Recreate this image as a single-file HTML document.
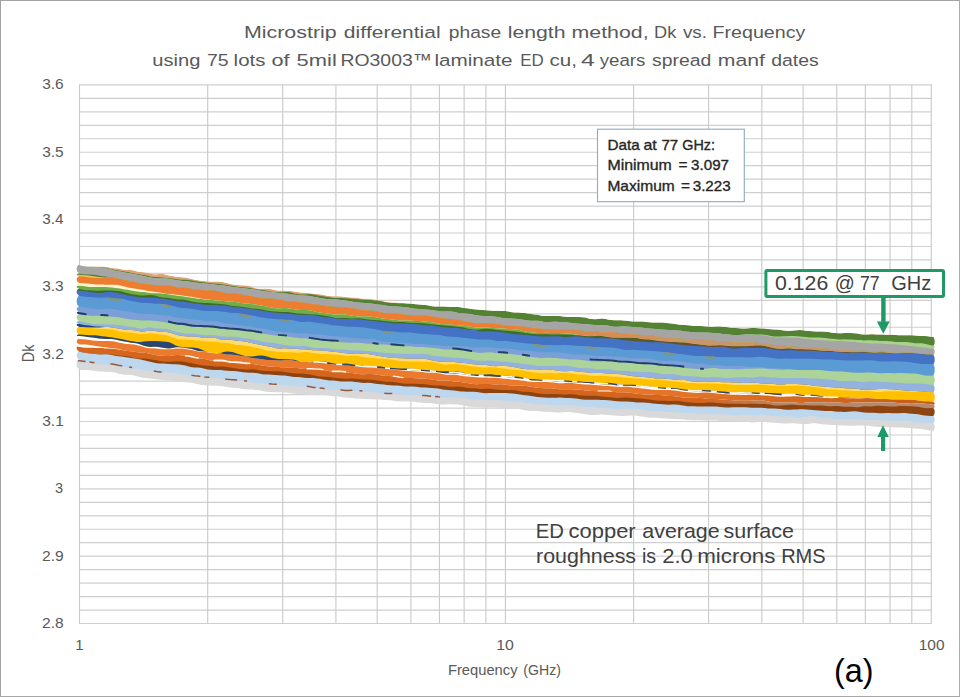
<!DOCTYPE html>
<html lang="en">
<head>
<meta charset="utf-8">
<title>Dk vs. Frequency</title>
<style>
html,body{margin:0;padding:0;background:#ffffff;}
body{width:960px;height:697px;overflow:hidden;font-family:"Liberation Sans",sans-serif;}
#chart{position:absolute;left:0;top:0;width:960px;height:697px;box-sizing:border-box;border:1px solid #a2a2a2;border-right-color:#adadad;border-bottom-color:#a8a8a8;background:#ffffff;}
svg{position:absolute;left:-1px;top:-1px;font-family:"Liberation Sans",sans-serif;font-kerning:none;}
</style>
</head>
<body>
<div id="chart">
<svg width="960" height="697" viewBox="0 0 960 697">
<path d="M78.9 84.90H931.9M78.9 98.37H931.9M78.9 111.83H931.9M78.9 125.30H931.9M78.9 138.76H931.9M78.9 152.23H931.9M78.9 165.69H931.9M78.9 179.16H931.9M78.9 192.62H931.9M78.9 206.09H931.9M78.9 219.55H931.9M78.9 233.02H931.9M78.9 246.48H931.9M78.9 259.95H931.9M78.9 273.41H931.9M78.9 286.88H931.9M78.9 300.34H931.9M78.9 313.81H931.9M78.9 327.27H931.9M78.9 340.74H931.9M78.9 354.20H931.9M78.9 367.66H931.9M78.9 381.13H931.9M78.9 394.60H931.9M78.9 408.06H931.9M78.9 421.52H931.9M78.9 434.99H931.9M78.9 448.46H931.9M78.9 461.92H931.9M78.9 475.38H931.9M78.9 488.85H931.9M78.9 502.32H931.9M78.9 515.78H931.9M78.9 529.25H931.9M78.9 542.71H931.9M78.9 556.17H931.9M78.9 569.64H931.9M78.9 583.11H931.9M78.9 596.57H931.9M78.9 610.03H931.9M78.9 623.50H931.9" fill="none" stroke="#cfcfcf" stroke-width="1.2"/>
<path d="M79.50 84.9V623.5M207.71 84.9V623.5M282.71 84.9V623.5M335.92 84.9V623.5M377.19 84.9V623.5M410.91 84.9V623.5M439.43 84.9V623.5M464.13 84.9V623.5M485.91 84.9V623.5M505.40 84.9V623.5M633.61 84.9V623.5M708.61 84.9V623.5M761.82 84.9V623.5M803.09 84.9V623.5M836.81 84.9V623.5M865.33 84.9V623.5M890.03 84.9V623.5M911.81 84.9V623.5M931.30 84.9V623.5" fill="none" stroke="#c9c9c9" stroke-width="1.1"/>
<defs><linearGradient id="gOr" gradientUnits="userSpaceOnUse" x1="500" y1="0" x2="690" y2="0"><stop offset="0" stop-color="#ed7d31"/><stop offset="1" stop-color="#c9966c"/></linearGradient><linearGradient id="gDg" gradientUnits="userSpaceOnUse" x1="540" y1="0" x2="700" y2="0"><stop offset="0" stop-color="#3f6b2a"/><stop offset="1" stop-color="#6b4f25"/></linearGradient><linearGradient id="gO2" gradientUnits="userSpaceOnUse" x1="600" y1="0" x2="900" y2="0"><stop offset="0" stop-color="#ec7a2e"/><stop offset="1" stop-color="#c9601a"/></linearGradient><linearGradient id="gO3" gradientUnits="userSpaceOnUse" x1="700" y1="0" x2="800" y2="0"><stop offset="0" stop-color="#d5651c"/><stop offset="1" stop-color="#b58a6c"/></linearGradient>
<mask id="bandmask" maskUnits="userSpaceOnUse" x="70" y="255" width="870" height="185"><path d="M79.8 265.2l3.2 0.7 3.2 0.5 3.2 0.1 3.2-0.1 3.2 0 3.2 0 3.2 0 3.2 0.3 3.2 0.6 3.2 0.6 3.2 0.4 3.2 0.3 3.2 0.6 3.2 0.5 3.2 0.2 3.2 0.2 3.2 0.5 3.2 0.8 3.2 0.5 3.2 0.4 3.2 0.5 3.2 0.8 3.2 0.6 3.2 0 3.2-0.2 3.2 0.1 3.2 0.7 3.2 0.7 3.2 0.6 3.2 0.6 3.2 0.4 3.2 0.2 3.2 0.3 3.2 0.6 3.2 0.7 3.2 0.8 3.2 0.6 3.2 0.4 3.2 0.4 3.2 0.3 3.2 0.1 3.2 0 3.2 0.1 3.2 0.2 3.2 0.5 3.2 0.8 3.2 0.9 3.2 0.6 3.2 0.4 3.2 0.3 3.2 0 3.2 0.2 3.2 0.6 3.2 1.1 3.2 1 3.2 0.5 3.2 0 3.2-0.2 3.2 0.2 3.2 0.6 3.2 0.8 3.2 0.4 3.2 0.1 3.2 0 3.2 0.2 3.2 0.3 3.2 0.5 3.2 0.4 3.2 0.4 3.2 0.2 3.2 0.3 3.2 0.4 3.2 0.4 3.2 0.3 3.2 0.3 3.2 0.5 3.2 0.6 3.2 0.5 3.2 0.3 3.2 0 3.2 0.1 3.2 0.2 3.2 0.5 3.2 0.3 3.2 0.2 3.2 0 3.2 0.4 3.2 0.5 3.2 0.3 3.2 0.1 3.2 0.3 3.2 0.4 3.2 0.5 3.2 0.5 3.2 0.7 3.2 0.7 3.2 0.4 3.2 0.1 3.2 0.2 3.2 0.2 3.2 0.2 3.2 0.2 3.2 0.2 3.2 0.4 3.2 0.4 3.2 0.3 3.2 0.2 3.2 0.3 3.2 0.6 3.2 0.6 3.2 0.3 3.2 0.1 3.2 0 3.2 0 3.2 0.2 3.2 0.2 3.2 0.1 3.2 0 3.2 0.2 3.2 0.6 3.2 0.4 3.2 0.4 3.2 0.5 3.2 0.3 3.2 0.2 3.2 0.2 3.2 0.3 3.2 0.3 3.2 0.2 3.2 0 3.2 0.1 3.2 0.1 3.2 0.2 3.2 0.5 3.2 0.6 3.2 0.3 3.2 0.1 3.2 0.1 3.2 0.4 3.2 0.5 3.2 0.5 3.2 0.3 3.2 0.4 3.2 0.6 3.2 0.6 3.2 0.1 3.2-0.2 3.2-0.1 3.2 0.1 3.2 0.2 3.2 0.3 3.2 0.4 3.2 0.3 3.2 0 3.2-0.1 3.2 0 3.2 0.2 3.2 0.4 3.2 0.8 3.2 0.6 3.2 0.2 3.2-0.2 3.2-0.4 3.2 0.2 3.2 0.6 3.2 0.5 3.2 0.3 3.2 0 3.2 0.1 3.2 0.2 3.2 0.3 3.2 0.4 3.2 0.2 3.2 0 3.2 0 3.2 0.2 3.2 0.3 3.2 0.3 3.2 0.3 3.2 0.1 3.2 0 3.2 0 3.2 0.2 3.2 0.4 3.2 0.4 3.2 0.4 3.2 0.4 3.2 0.3 3.2 0.2 3.2 0.3 3.2 0.4 3.2 0.4 3.2 0.1 3.2-0.1 3.2 0.2 3.2 0.3 3.2 0.2 3.2 0 3.2-0.2 3.2 0 3.2 0.2 3.2 0.4 3.2 0.5 3.2 0.3 3.2 0.2 3.2 0.1 3.2 0.2 3.2 0 3.2-0.2 3.2-0.1 3.2 0 3.2 0.1 3.2 0.2 3.2 0.2 3.2 0.3 3.2 0.3 3.2 0.3 3.2 0.1 3.2 0.3 3.2 0.5 3.2 0.4 3.2 0 3.2-0.3 3.2-0.3 3.2-0.1 3.2 0.2 3.2 0.4 3.2 0.3 3.2 0.3 3.2 0.1 3.2 0 3.2 0.1 3.2 0.2 3.2 0.4 3.2 0.6 3.2 0.4 3.2 0.2 3.2-0.1 3.2-0.1 3.2-0.1 3.2 0.1 3.2 0.2 3.2 0.3 3.2 0.6 3.2 0.3 3.2 0 3.2-0.2 3.2 0 3.2 0.1 3.2 0.1 3.2 0.1 3.2 0.1 3.2 0 3.2 0 3.2 0.2 3.2 0.3 3.2 0.1 3.2 0 3.2-0.1 3.2 0 3.2 0.2 3.2 0.4 3.2 0.2 3.2 0.1 3.2 0.2 3.2 0.4 3.2 0.3 -0.7 0.2 1 2.2 0.2 2.2 -0.2 2.1 -1 2.2 0 0 1 0.6 0.2 0.5 -0.2 0.6 -1 0.6 0 0 1 1.7 0.2 1.7 -0.2 1.7 -1 1.7 0 0 1 2.4 0.2 2.3 -0.2 2.3 -1 2.3 0 0 1 2.8 0.2 2.8 -0.2 2.7 -1 2.8 0 0 1 2.3 0.2 2.4 -0.2 2.3 -1 2.3 0 0 1 2 0.2 1.9 -0.2 2 -1 2 0 0 1 2.3 0.2 2.4 -0.2 2.4 -1 2.3 0 0 1 0.8 0.2 0.7 -0.2 0.8 -1 0.7 0 0 1 0.8 0.2 0.8 -0.2 0.8 -1 0.8 0 0 1 1.9 0.2 1.8 -0.2 1.9 -1 1.8 0 0 1 1.9 0.2 1.9 -0.2 1.9 -1 1.8 0 0 1 1.9 0.2 1.9 -0.2 1.8 -1 1.9 0.7 0.3 -3.2-0.1 -3.2-0.5 -3.2-0.8 -3.2-0.5 -3.2-0.2 -3.2-0.2 -3.2-0.4 -3.2-0.3 -3.2-0.1 -3.2-0.2 -3.2-0.1 -3.2-0.1 -3.2-0.2 -3.2-0.2 -3.2 0 -3.2 0 -3.2-0.1 -3.2-0.2 -3.2-0.3 -3.2-0.3 -3.2-0.3 -3.2-0.2 -3.2 0 -3.2 0 -3.2 0.1 -3.2 0 -3.2 0 -3.2-0.1 -3.2-0.2 -3.2-0.2 -3.2-0.1 -3.2-0.1 -3.2-0.2 -3.2-0.2 -3.2-0.3 -3.2-0.5 -3.2-0.5 -3.2 0 -3.2 0.4 -3.2 0.3 -3.2 0 -3.2-0.2 -3.2-0.4 -3.2-0.2 -3.2 0.1 -3.2 0.2 -3.2-0.1 -3.2-0.2 -3.2-0.2 -3.2-0.2 -3.2-0.2 -3.2-0.3 -3.2-0.2 -3.2-0.2 -3.2 0.1 -3.2 0.3 -3.2 0.1 -3.2-0.3 -3.2-0.3 -3.2-0.1 -3.2-0.1 -3.2 0 -3.2 0 -3.2-0.2 -3.2-0.1 -3.2-0.1 -3.2-0.2 -3.2-0.4 -3.2-0.1 -3.2 0 -3.2 0.1 -3.2-0.1 -3.2-0.2 -3.2 0 -3.2 0 -3.2-0.1 -3.2-0.3 -3.2-0.3 -3.2-0.3 -3.2-0.1 -3.2-0.1 -3.2-0.2 -3.2-0.2 -3.2-0.3 -3.2-0.2 -3.2-0.2 -3.2-0.2 -3.2 0 -3.2-0.1 -3.2-0.4 -3.2-0.5 -3.2-0.6 -3.2-0.4 -3.2-0.3 -3.2 0 -3.2 0.2 -3.2 0.3 -3.2 0 -3.2-0.3 -3.2-0.3 -3.2-0.2 -3.2-0.2 -3.2-0.3 -3.2-0.1 -3.2 0.2 -3.2 0.2 -3.2 0 -3.2-0.3 -3.2-0.5 -3.2-0.5 -3.2-0.5 -3.2-0.4 -3.2-0.4 -3.2-0.3 -3.2 0 -3.2 0.2 -3.2 0.3 -3.2 0 -3.2-0.3 -3.2-0.3 -3.2-0.2 -3.2-0.1 -3.2-0.3 -3.2-0.3 -3.2-0.2 -3.2 0 -3.2-0.1 -3.2-0.5 -3.2-0.7 -3.2-0.6 -3.2-0.2 -3.2 0 -3.2 0.1 -3.2-0.1 -3.2-0.4 -3.2-0.4 -3.2-0.6 -3.2-0.2 -3.2 0.1 -3.2 0.2 -3.2 0 -3.2-0.2 -3.2-0.2 -3.2-0.2 -3.2-0.2 -3.2-0.5 -3.2-0.6 -3.2-0.7 -3.2-0.3 -3.2-0.2 -3.2-0.1 -3.2 0 -3.2 0.1 -3.2 0.2 -3.2-0.3 -3.2-0.6 -3.2-0.5 -3.2-0.3 -3.2 0 -3.2-0.1 -3.2-0.4 -3.2-0.4 -3.2-0.3 -3.2-0.1 -3.2 0 -3.2 0 -3.2 0 -3.2-0.4 -3.2-0.5 -3.2-0.5 -3.2-0.2 -3.2-0.1 -3.2-0.3 -3.2-0.2 -3.2-0.2 -3.2 0 -3.2-0.1 -3.2-0.2 -3.2-0.2 -3.2-0.2 -3.2-0.1 -3.2-0.3 -3.2-0.3 -3.2-0.3 -3.2-0.3 -3.2-0.4 -3.2-0.3 -3.2-0.3 -3.2-0.4 -3.2-0.5 -3.2-0.3 -3.2-0.1 -3.2 0 -3.2 0 -3.2-0.1 -3.2-0.1 -3.2-0.2 -3.2-0.3 -3.2-0.3 -3.2-0.3 -3.2-0.4 -3.2-0.4 -3.2-0.4 -3.2-0.1 -3.2 0 -3.2-0.1 -3.2-0.1 -3.2-0.2 -3.2-0.4 -3.2-0.6 -3.2-0.6 -3.2-0.4 -3.2-0.3 -3.2-0.2 -3.2-0.1 -3.2-0.3 -3.2-0.4 -3.2-0.5 -3.2-0.4 -3.2-0.3 -3.2-0.3 -3.2-0.5 -3.2-0.5 -3.2-0.3 -3.2-0.1 -3.2-0.1 -3.2-0.2 -3.2-0.2 -3.2-0.3 -3.2-0.6 -3.2-0.8 -3.2-0.7 -3.2-0.4 -3.2-0.1 -3.2-0.3 -3.2-0.5 -3.2-0.4 -3.2-0.2 -3.2-0.3 -3.2-0.3 -3.2-0.3 -3.2-0.2 -3.2-0.5 -3.2-0.4 -3.2-0.4 -3.2-0.2 -3.2-0.4 -3.2-0.6 -3.2-0.9 -3.2-1 -3.2-0.5 -3.2-0.2 -3.2 0 -3.2-0.5 -3.2-0.7 -3.2-0.9 -3.2-0.6 -3.2-0.2 -3.2-0.1 -3.2-0.1 -3.2-0.2 -3.2-0.4 -3.2-0.4 -3.2-0.3 -3.2-0.2 -3.2-0.1 -3.2-0.3 -0.9-0.4 -1.8-2.1 -0.5-2.8 0.5-2.8 1.8-2.1 0 0 -1.8-1.8 -0.5-2.2 0.5-2.3 1.8-1.8 0 0 -1.8-1.6 -0.5-2 0.5-2 1.8-1.6 0 0 -1.8-1.2 -0.5-1.6 0.5-1.5 1.8-1.3 0 0 -1.8-1 -0.5-1.2 0.5-1.3 1.8-1 0 0 -1.8-1.7 -0.5-2.1 0.5-2.1 1.8-1.7 0 0 -1.8-0.6 -0.5-0.8 0.5-0.9 1.8-0.6 0 0 -1.8-0.6 -0.5-0.8 0.5-0.8 1.8-0.6 0 0 -1.8-1.5 -0.5-1.8 0.5-1.9 1.8-1.4 0 0 -1.8-0.6 -0.5-0.8 0.5-0.7 1.8-0.6 0 0 -1.8-1.1 -0.5-1.3 0.5-1.4 1.8-1 0 0 -1.8-2.4 -0.5-3.1 0.5-3.1 1.8-2.5 0 0 -1.8-1.5 -0.5-2.1 0.5-2 1.8-1.5 0 0 -1.8-0.7 -0.5-0.9 0.5-0.8 1.8-0.7 0 0 -1.8-0.6 -0.5-0.7 0.5-0.8 1.8-0.6 0 0 -1.8-1.4 -0.5-1.8 0.5-1.8 1.8-1.4 0 0 -1.8-0.7 -0.5-0.9 0.5-0.8 1.8-0.7 0 0 -1.8-1.9 -0.5-2.4 0.5-2.4 1.8-1.9z" fill="#fff"/></mask></defs>
<g mask="url(#bandmask)">
<path d="M75.6 264.6l1 0 3.2 0.6 3.2 0.7 3.2 0.5 3.2 0.1 3.2-0.1 3.2 0 3.2 0 3.2 0 3.2 0.3 3.2 0.6 3.2 0.6 3.2 0.4 3.2 0.3 3.2 0.6 3.2 0.5 3.2 0.2 3.2 0.2 3.2 0.5 3.2 0.8 3.2 0.5 3.2 0.4 3.2 0.5 3.2 0.8 3.2 0.6 3.2 0 3.2-0.2 3.2 0.1 3.2 0.7 3.2 0.7 3.2 0.6 3.2 0.6 3.2 0.4 3.2 0.2 3.2 0.3 3.2 0.6 3.2 0.7 3.2 0.8 3.2 0.6 3.2 0.4 3.2 0.4 3.2 0.3 3.2 0.1 3.2 0 3.2 0.1 3.2 0.2 3.2 0.5 3.2 0.8 3.2 0.9 3.2 0.6 3.2 0.4 3.2 0.3 3.2 0 3.2 0.2 3.2 0.6 3.2 1.1 3.2 1 3.2 0.5 3.2 0 3.2-0.2 3.2 0.2 3.2 0.6 3.2 0.8 3.2 0.4 3.2 0.1 3.2 0 3.2 0.2 3.2 0.3 3.2 0.5 3.2 0.4 3.2 0.4 3.2 0.2 3.2 0.3 3.2 0.4 3.2 0.4 3.2 0.3 3.2 0.3 3.2 0.5 3.2 0.6 3.2 0.5 3.2 0.3 3.2 0 3.2 0.1 3.2 0.2 3.2 0.5 3.2 0.3 3.2 0.2 3.2 0 3.2 0.4 3.2 0.5 3.2 0.3 3.2 0.1 3.2 0.3 3.2 0.4 3.2 0.5 3.2 0.5 3.2 0.7 3.2 0.7 3.2 0.4 3.2 0.1 3.2 0.2 3.2 0.2 3.2 0.2 3.2 0.2 3.2 0.2 3.2 0.4 3.2 0.4 3.2 0.3 3.2 0.2 3.2 0.3 3.2 0.6 3.2 0.6 3.2 0.3 3.2 0.1 3.2 0 3.2 0 3.2 0.2 3.2 0.2 3.2 0.1 3.2 0 3.2 0.2 3.2 0.6 3.2 0.4 3.2 0.4 3.2 0.5 3.2 0.3 3.2 0.2 3.2 0.2 3.2 0.3 3.2 0.3 3.2 0.2 3.2 0 3.2 0.1 3.2 0.1 3.2 0.2 3.2 0.5 3.2 0.6 3.2 0.3 3.2 0.1 3.2 0.1 3.2 0.4 3.2 0.5 3.2 0.5 3.2 0.3 3.2 0.4 3.2 0.6 3.2 0.6 3.2 0.1 3.2-0.2 3.2-0.1 3.2 0.1 3.2 0.2 3.2 0.3 3.2 0.4 3.2 0.3 3.2 0 3.2-0.1 3.2 0 3.2 0.2 3.2 0.4 3.2 0.8 3.2 0.6 3.2 0.2 3.2-0.2 3.2-0.4 3.2 0.2 3.2 0.6 3.2 0.5 3.2 0.3 3.2 0 3.2 0.1 3.2 0.2 3.2 0.3 3.2 0.4 3.2 0.2 3.2 0 3.2 0 3.2 0.2 3.2 0.3 3.2 0.3 3.2 0.3 3.2 0.1 3.2 0 3.2 0 3.2 0.2 3.2 0.4 3.2 0.4 3.2 0.4 3.2 0.4 3.2 0.3 3.2 0.2 3.2 0.3 3.2 0.4 3.2 0.4 3.2 0.1 3.2-0.1 3.2 0.2 3.2 0.3 3.2 0.2 3.2 0 3.2-0.2 3.2 0 3.2 0.2 3.2 0.4 3.2 0.5 3.2 0.3 3.2 0.2 3.2 0.1 3.2 0.2 3.2 0 3.2-0.2 3.2-0.1 3.2 0 3.2 0.1 3.2 0.2 3.2 0.2 3.2 0.3 3.2 0.3 3.2 0.3 3.2 0.1 3.2 0.3 3.2 0.5 3.2 0.4 3.2 0 3.2-0.3 3.2-0.3 3.2-0.1 3.2 0.2 3.2 0.4 3.2 0.3 3.2 0.3 3.2 0.1 3.2 0 3.2 0.1 3.2 0.2 3.2 0.4 3.2 0.6 3.2 0.4 3.2 0.2 3.2-0.1 3.2-0.1 3.2-0.1 3.2 0.1 3.2 0.2 3.2 0.3 3.2 0.6 3.2 0.3 3.2 0 3.2-0.2 3.2 0 3.2 0.1 3.2 0.1 3.2 0.1 3.2 0.1 3.2 0 3.2 0 3.2 0.2 3.2 0.3 3.2 0.1 3.2 0 3.2-0.1 3.2 0 3.2 0.2 3.2 0.4 3.2 0.2 3.2 0.1 3.2 0.2 3.2 0.4 3.2 0.3 0.5 0.2 1 0 0 102.8 -860.1 0z" fill="#dca376"/>
<path d="M75.6 264.6l1 0 3.2 0.6 3.2 0.7 3.2 0.6 3.2 0.2 3.2 0.1 3.2 0.2 3.2 0.2 3.2 0.3 3.2 0.3 3.2 0.6 3.2 0.8 3.2 0.8 3.2 0.5 3.2 0.4 3.2 0.5 3.2 0.7 3.2 0.7 3.2 0.6 3.2 0.6 3.2 0.4 3.2 0.5 3.2 0.7 3.2 0.8 3.2 0.5 3.2 0.2 3.2 0.2 3.2 0.3 3.2 0.3 3.2 0.4 3.2 0.3 3.2 0.4 3.2 0.5 3.2 0.3 3.2 0 3.2 0.1 3.2 0.5 3.2 0.7 3.2 0.6 3.2 0.4 3.2 0.3 3.2 0.3 3.2 0.5 3.2 0.3 3.2 0.3 3.2 0.3 3.2 0.5 3.2 0.5 3.2 0.4 3.2 0.4 3.2 0.6 3.2 0.5 3.2 0.3 3.2 0.3 3.2 0.5 3.2 0.5 3.2 0.6 3.2 0.4 3.2 0.4 3.2 0.5 3.2 0.6 3.2 0.6 3.2 0.3 3.2 0.2 3.2 0 3.2-0.2 3.2 0 3.2 0.5 3.2 0.9 3.2 0.7 3.2 0.3 3.2 0 3.2-0.2 3.2-0.1 3.2 0.5 3.2 0.7 3.2 0.5 3.2 0.4 3.2 0.5 3.2 0.5 3.2 0.5 3.2 0.2 3.2 0 3.2 0.1 3.2 0.3 3.2 0.3 3.2 0.2 3.2 0.2 3.2 0.3 3.2 0.3 3.2 0.2 3.2 0.1 3.2 0.2 3.2 0.3 3.2 0.4 3.2 0.5 3.2 0.7 3.2 0.5 3.2 0.4 3.2 0.2 3.2 0.1 3.2 0.2 3.2 0.2 3.2 0.1 3.2 0 3.2 0.2 3.2 0.4 3.2 0.2 3.2 0.2 3.2 0.3 3.2 0.6 3.2 0.6 3.2 0.3 3.2 0.1 3.2 0 3.2 0 3.2 0.2 3.2 0.2 3.2 0.1 3.2 0 3.2 0.2 3.2 0.6 3.2 0.4 3.2 0.4 3.2 0.5 3.2 0.3 3.2 0.2 3.2 0.2 3.2 0.3 3.2 0.3 3.2 0.2 3.2 0 3.2 0.1 3.2 0.1 3.2 0.2 3.2 0.5 3.2 0.6 3.2 0.3 3.2 0.1 3.2 0.1 3.2 0.4 3.2 0.5 3.2 0.5 3.2 0.3 3.2 0.4 3.2 0.6 3.2 0.6 3.2 0.1 3.2-0.2 3.2-0.1 3.2 0.1 3.2 0.2 3.2 0.3 3.2 0.4 3.2 0.3 3.2 0 3.2-0.1 3.2 0 3.2 0.2 3.2 0.4 3.2 0.8 3.2 0.6 3.2 0.2 3.2-0.2 3.2-0.4 3.2 0.2 3.2 0.6 3.2 0.5 3.2 0.3 3.2 0 3.2 0.1 3.2 0.2 3.2 0.3 3.2 0.4 3.2 0.2 3.2 0 3.2 0 3.2 0.2 3.2 0.3 3.2 0.3 3.2 0.3 3.2 0.1 3.2 0 3.2 0 3.2 0.2 3.2 0.4 3.2 0.4 3.2 0.4 3.2 0.4 3.2 0.3 3.2 0.2 3.2 0.3 3.2 0.4 3.2 0.4 3.2 0.1 3.2-0.1 3.2 0.2 3.2 0.3 3.2 0.2 3.2 0 3.2-0.2 3.2 0 3.2 0.2 3.2 0.4 3.2 0.5 3.2 0.3 3.2 0.2 3.2 0.1 3.2 0.2 3.2 0 3.2-0.2 3.2-0.1 3.2 0 3.2 0.1 3.2 0.2 3.2 0.2 3.2 0.3 3.2 0.3 3.2 0.3 3.2 0.1 3.2 0.3 3.2 0.5 3.2 0.4 3.2 0 3.2-0.3 3.2-0.3 3.2-0.1 3.2 0.2 3.2 0.4 3.2 0.3 3.2 0.3 3.2 0.1 3.2 0 3.2 0.1 3.2 0.2 3.2 0.4 3.2 0.6 3.2 0.4 3.2 0.2 3.2-0.1 3.2-0.1 3.2-0.1 3.2 0.1 3.2 0.2 3.2 0.3 3.2 0.6 3.2 0.3 3.2 0 3.2-0.2 3.2 0 3.2 0.1 3.2 0.1 3.2 0.1 3.2 0.1 3.2 0 3.2 0 3.2 0.2 3.2 0.3 3.2 0.1 3.2 0 3.2-0.1 3.2 0 3.2 0.2 3.2 0.4 3.2 0.2 3.2 0.1 3.2 0.2 3.2 0.4 3.2 0.3 0.5 0.2 1 0 0 102.8 -860.1 0z" fill="#548235"/>
<path d="M75.6 264.6l1 0 3.2 0.6 3.2 0.7 3.2 0.6 3.2 0.2 3.2 0.1 3.2 0.2 3.2 0.3 3.2 0.4 3.2 0.5 3.2 0.7 3.2 0.9 3.2 0.9 3.2 0.6 3.2 0.5 3.2 0.6 3.2 0.6 3.2 0.6 3.2 0.6 3.2 0.6 3.2 0.6 3.2 0.6 3.2 0.8 3.2 0.7 3.2 0.5 3.2 0.3 3.2 0.1 3.2 0 3.2 0.2 3.2 0.4 3.2 0.6 3.2 0.5 3.2 0.4 3.2 0.4 3.2 0.3 3.2 0.3 3.2 0.5 3.2 0.6 3.2 0.5 3.2 0.3 3.2 0.2 3.2 0.2 3.2 0.3 3.2 0.4 3.2 0.4 3.2 0.3 3.2 0.4 3.2 0.5 3.2 0.4 3.2 0.4 3.2 0.5 3.2 0.4 3.2 0.4 3.2 0.4 3.2 0.3 3.2 0.4 3.2 0.5 3.2 0.5 3.2 0.6 3.2 0.5 3.2 0.4 3.2 0.3 3.2 0.5 3.2 0.4 3.2 0.2 3.2 0.3 3.2 0.3 3.2 0.6 3.2 0.4 3.2 0.3 3.2 0.3 3.2 0.1 3.2 0.2 3.2 0.4 3.2 0.6 3.2 0.6 3.2 0.6 3.2 0.6 3.2 0.5 3.2 0.3 3.2 0.1 3.2 0.1 3.2 0.3 3.2 0.4 3.2 0.4 3.2 0.4 3.2 0.6 3.2 0.6 3.2 0.4 3.2 0.2 3.2 0.2 3.2 0.3 3.2 0.3 3.2 0.5 3.2 0.3 3.2 0.4 3.2 0.5 3.2 0.5 3.2 0.4 3.2 0.2 3.2 0.1 3.2 0.3 3.2 0.1 3.2 0.3 3.2 0.5 3.2 0.7 3.2 0.4 3.2 0.3 3.2 0.2 3.2 0.2 3.2 0.2 3.2 0.3 3.2 0.5 3.2 0.5 3.2 0.4 3.2 0.1 3.2-0.1 3.2 0 3.2 0.6 3.2 0.8 3.2 0.6 3.2 0.2 3.2 0.1 3.2 0.3 3.2 0.7 3.2 0.6 3.2 0.4 3.2 0.2 3.2 0 3.2 0 3.2 0.3 3.2 0.5 3.2 0.6 3.2 0.6 3.2 0.4 3.2 0.2 3.2 0 3.2 0.2 3.2 0.4 3.2 0.5 3.2 0.5 3.2 0.4 3.2 0.2 3.2 0 3.2 0 3.2 0.4 3.2 0.8 3.2 0.3 3.2-0.2 3.2-0.2 3.2 0 3.2 0.1 3.2 0.2 3.2 0.2 3.2 0.4 3.2 0.4 3.2 0.3 3.2 0.4 3.2 0.3 3.2 0 3.2 0.1 3.2 0.5 3.2 0.4 3.2 0.2 3.2-0.1 3.2 0 3.2 0.3 3.2 0.7 3.2 0.5 3.2 0 3.2-0.3 3.2-0.2 3.2 0.2 3.2 0.4 3.2 0.4 3.2 0.2 3.2 0.1 3.2 0.3 3.2 0.4 3.2 0.3 3.2 0.2 3.2 0.3 3.2 0.3 3.2 0.2 3.2 0.2 3.2 0.2 3.2 0.1 3.2 0.2 3.2 0.2 3.2 0.4 3.2 0.6 3.2 0.4 3.2 0.2 3.2 0.2 3.2 0.2 3.2 0.1 3.2 0 3.2 0.1 3.2 0.2 3.2 0.1 3.2 0.2 3.2 0.4 3.2 0.4 3.2 0.4 3.2 0.3 3.2 0.3 3.2 0.2 3.2-0.1 3.2-0.3 3.2-0.4 3.2-0.1 3.2 0.1 3.2 0.2 3.2 0 3.2 0 3.2 0.2 3.2 0.5 3.2 0.7 3.2 0.5 3.2 0.1 3.2-0.1 3.2-0.1 3.2-0.1 3.2-0.1 3.2 0 3.2 0.2 3.2 0.2 3.2 0.2 3.2 0.3 3.2 0.4 3.2 0.2 3.2 0 3.2-0.1 3.2 0.2 3.2 0.4 3.2 0.4 3.2 0.3 3.2 0.3 3.2 0.3 3.2 0 3.2-0.1 3.2 0.1 3.2 0.2 3.2 0.1 3.2 0.2 3.2 0.2 3.2 0.3 3.2-0.1 3.2 0 3.2 0.1 3.2 0.2 3.2 0.3 3.2 0.2 3.2 0 3.2 0.2 3.2 0.3 3.2 0.4 3.2 0 3.2-0.1 3.2 0.1 3.2 0.3 3.2 0.5 3.2 0.4 3.2 0 3.2 0.1 3.2 0.5 3.2 0.8 3.2 0.7 3.2 0.4 0.5 0.2 1 0 0 94.1 -860.1 0z" fill="#a9d18e"/>
<path d="M75.6 264.6l1 0 3.2 0.6 3.2 0.7 3.2 0.6 3.2 0.2 3.2 0.1 3.2 0.2 3.2 0.3 3.2 0.4 3.2 0.5 3.2 0.7 3.2 0.9 3.2 0.9 3.2 0.6 3.2 0.5 3.2 0.6 3.2 0.6 3.2 0.6 3.2 0.6 3.2 0.6 3.2 0.6 3.2 0.6 3.2 0.8 3.2 0.7 3.2 0.5 3.2 0.3 3.2 0.1 3.2 0 3.2 0.2 3.2 0.4 3.2 0.6 3.2 0.5 3.2 0.4 3.2 0.4 3.2 0.3 3.2 0.3 3.2 0.5 3.2 0.6 3.2 0.5 3.2 0.3 3.2 0.2 3.2 0.2 3.2 0.3 3.2 0.4 3.2 0.4 3.2 0.3 3.2 0.4 3.2 0.5 3.2 0.4 3.2 0.4 3.2 0.5 3.2 0.4 3.2 0.4 3.2 0.4 3.2 0.3 3.2 0.4 3.2 0.5 3.2 0.5 3.2 0.6 3.2 0.5 3.2 0.4 3.2 0.3 3.2 0.5 3.2 0.4 3.2 0.2 3.2 0.3 3.2 0.3 3.2 0.6 3.2 0.4 3.2 0.3 3.2 0.3 3.2 0.1 3.2 0.2 3.2 0.4 3.2 0.6 3.2 0.6 3.2 0.6 3.2 0.6 3.2 0.5 3.2 0.3 3.2 0.1 3.2 0.1 3.2 0.3 3.2 0.4 3.2 0.4 3.2 0.4 3.2 0.6 3.2 0.6 3.2 0.4 3.2 0.2 3.2 0.2 3.2 0.3 3.2 0.3 3.2 0.5 3.2 0.3 3.2 0.4 3.2 0.5 3.2 0.5 3.2 0.4 3.2 0.2 3.2 0.1 3.2 0.3 3.2 0.1 3.2 0.3 3.2 0.5 3.2 0.7 3.2 0.4 3.2 0.3 3.2 0.2 3.2 0.2 3.2 0.2 3.2 0.3 3.2 0.5 3.2 0.5 3.2 0.4 3.2 0.1 3.2-0.1 3.2 0 3.2 0.6 3.2 0.8 3.2 0.6 3.2 0.2 3.2 0.1 3.2 0.3 3.2 0.7 3.2 0.6 3.2 0.4 3.2 0.2 3.2 0 3.2 0 3.2 0.3 3.2 0.5 3.2 0.6 3.2 0.6 3.2 0.4 3.2 0.2 3.2 0 3.2 0.2 3.2 0.4 3.2 0.5 3.2 0.5 3.2 0.4 3.2 0.2 3.2 0 3.2 0 3.2 0.4 3.2 0.8 3.2 0.3 3.2-0.2 3.2-0.2 3.2 0 3.2 0.1 3.2 0.2 3.2 0.2 3.2 0.4 3.2 0.4 3.2 0.3 3.2 0.4 3.2 0.3 3.2 0 3.2 0.1 3.2 0.5 3.2 0.4 3.2 0.2 3.2-0.1 3.2 0 3.2 0.3 3.2 0.7 3.2 0.5 3.2 0 3.2-0.3 3.2-0.2 3.2 0.2 3.2 0.4 3.2 0.4 3.2 0.2 3.2 0.1 3.2 0.3 3.2 0.4 3.2 0.3 3.2 0.2 3.2 0.3 3.2 0.3 3.2 0.2 3.2 0.2 3.2 0.2 3.2 0.1 3.2 0.2 3.2 0.2 3.2 0.4 3.2 0.6 3.2 0.4 3.2 0.2 3.2 0.2 3.2 0.2 3.2 0.1 3.2 0 3.2 0.1 3.2 0.2 3.2 0.1 3.2 0.2 3.2 0.4 3.2 0.4 3.2 0.4 3.2 0.3 3.2 0.3 3.2 0.2 3.2-0.1 3.2-0.3 3.2-0.2 3.2-0.1 3.2 0.3 3.2 0.3 3.2 0.1 3.2 0.1 3.2 0.2 3.2 0.6 3.2 0.7 3.2 0.5 3.2 0.3 3.2 0 3.2 0 3.2 0.1 3.2 0 3.2-0.1 3.2 0.2 3.2 0.4 3.2 0.5 3.2 0.3 3.2 0.4 3.2 0.4 3.2 0.4 3.2 0.2 3.2 0 3.2 0.2 3.2 0.3 3.2 0.3 3.2 0 3.2-0.2 3.2 0.1 3.2 0.3 3.2 0.3 3.2 0.2 3.2 0.2 3.2 0.4 3.2 0.3 3.2 0.3 3.2 0.2 3.2 0.2 3.2 0 3.2 0 3.2 0 3.2 0.3 3.2 0.3 3.2 0.2 3.2 0.1 3.2 0.1 3.2 0.3 3.2 0.5 3.2 0.4 3.2 0.3 3.2 0.2 3.2 0.3 3.2 0.5 3.2 0.4 3.2 0.2 3.2 0.5 3.2 0.4 3.2 0.1 0.5-0.3 1 0 0 91.8 -860.1 0z" fill="#a5a5a5"/>
<path d="M75.6 273.2l1 0 3.2 0.6 3.2 0.4 3.2 0.3 3.2 0.1 3.2 0.2 3.2 0.3 3.2 0.7 3.2 0.5 3.2 0.3 3.2 0.3 3.2 0.5 3.2 0.8 3.2 0.6 3.2 0.7 3.2 0.7 3.2 0.6 3.2 0.6 3.2 0.7 3.2 0.7 3.2 0.6 3.2 0.4 3.2 0.4 3.2 0.5 3.2 0.3 3.2 0.3 3.2 0.1 3.2 0 3.2 0 3.2 0.3 3.2 0.6 3.2 0.7 3.2 0.4 3.2 0.1 3.2 0.2 3.2 0.5 3.2 0.8 3.2 0.5 3.2 0.2 3.2 0.2 3.2 0.3 3.2 0.2 3.2 0.2 3.2 0.2 3.2 0.5 3.2 0.7 3.2 0.8 3.2 0.5 3.2 0.2 3.2-0.1 3.2 0.2 3.2 0.6 3.2 0.7 3.2 0.6 3.2 0.5 3.2 0.6 3.2 0.6 3.2 0.7 3.2 0.5 3.2 0.2 3.2 0 3.2 0.1 3.2 0.3 3.2 0.5 3.2 0.6 3.2 0.7 3.2 0.4 3.2 0.2 3.2 0.2 3.2 0.4 3.2 0.4 3.2 0.3 3.2 0.5 3.2 0.5 3.2 0.6 3.2 0.3 3.2 0.5 3.2 0.5 3.2 0.6 3.2 0.4 3.2 0.2 3.2 0.1 3.2 0.2 3.2 0.2 3.2 0.3 3.2 0.3 3.2 0.4 3.2 0.5 3.2 0.6 3.2 0.5 3.2 0.4 3.2 0.3 3.2 0.2 3.2 0.3 3.2 0.7 3.2 0.7 3.2 0.6 3.2 0.3 3.2 0.2 3.2 0.1 3.2 0 3.2 0.3 3.2 0.5 3.2 0.4 3.2 0.2 3.2 0.1 3.2 0.1 3.2 0.1 3.2 0.1 3.2 0.2 3.2 0.4 3.2 0.5 3.2 0.4 3.2 0.6 3.2 0.6 3.2 0.4 3.2 0.3 3.2 0.2 3.2 0.2 3.2 0.5 3.2 0.7 3.2 0.7 3.2 0.6 3.2 0.5 3.2 0.6 3.2 0.4 3.2 0.3 3.2 0 3.2 0.1 3.2 0 3.2 0.1 3.2 0.3 3.2 0.5 3.2 0.5 3.2 0.4 3.2 0.2 3.2 0.2 3.2 0.1 3.2 0.2 3.2 0.2 3.2 0.3 3.2 0.5 3.2 0.6 3.2 0.5 3.2 0.3 3.2 0.2 3.2 0.2 3.2 0.1 3.2 0.1 3.2 0.3 3.2 0.3 3.2 0.1 3.2-0.2 3.2-0.2 3.2 0 3.2 0.2 3.2 0.3 3.2 0.4 3.2 0.4 3.2 0.4 3.2 0.3 3.2 0 3.2 0.1 3.2 0.2 3.2 0.5 3.2 0.1 3.2-0.2 3.2-0.1 3.2 0.2 3.2 0.4 3.2 0.6 3.2 0.5 3.2 0.2 3.2 0 3.2 0.2 3.2 0.4 3.2 0.3 3.2 0.2 3.2 0.2 3.2 0.1 3.2 0.4 3.2 0.5 3.2 0.4 3.2 0.2 3.2 0.2 3.2 0.4 3.2 0.4 3.2 0.3 3.2 0.2 3.2 0.3 3.2 0.2 3.2 0.4 3.2 0.2 3.2 0 3.2-0.1 3.2 0.3 3.2 0.4 3.2 0.3 3.2 0.1 3.2 0.1 3.2 0.3 3.2 0.3 3.2 0.2 3.2 0.2 3.2 0.3 3.2 0.3 3.2 0 3.2 0 3.2 0 3.2 0 3.2 0 3.2 0.1 3.2 0.3 3.2 0.4 3.2 0.2 3.2 0.4 3.2 0.6 3.2 0.6 3.2 0.2 3.2 0 3.2 0.2 3.2 0.5 3.2 0.5 3.2 0.3 3.2 0.1 3.2 0.3 3.2 0.2 3.2 0.1 3.2-0.1 3.2 0.2 3.2 0.3 3.2 0.3 3.2 0.4 3.2 0.3 3.2 0.1 3.2 0.1 3.2 0.4 3.2 0.4 3.2 0.4 3.2 0 3.2-0.1 3.2 0 3.2 0.4 3.2 0.4 3.2 0.2 3.2-0.1 3.2 0 3.2 0.2 3.2 0.2 3.2 0.2 3.2 0.1 3.2 0.1 3.2 0.1 3.2 0.3 3.2 0.3 3.2 0.4 3.2 0.2 3.2 0 3.2-0.1 3.2 0 3.2 0 3.2 0 3.2 0.1 3.2 0.4 3.2 0.6 3.2 0.6 3.2 0.3 3.2 0 3.2 0.1 0.5 0.1 1 0 0 85 -860.1 0z" fill="#4e7a32"/>
<path d="M75.6 274.6l1 0 3.2 0.2 3.2 0.2 3.2 0.3 3.2 0.3 3.2 0.5 3.2 0.4 3.2 0.5 3.2 0.3 3.2 0.1 3.2-0.1 3.2 0.2 3.2 0.7 3.2 0.6 3.2 0.7 3.2 0.7 3.2 0.6 3.2 0.6 3.2 0.7 3.2 0.7 3.2 0.6 3.2 0.4 3.2 0.4 3.2 0.5 3.2 0.3 3.2 0.3 3.2 0.1 3.2 0 3.2 0 3.2 0.3 3.2 0.6 3.2 0.7 3.2 0.4 3.2 0.1 3.2 0.2 3.2 0.5 3.2 0.8 3.2 0.5 3.2 0.2 3.2 0.2 3.2 0.3 3.2 0.2 3.2 0.2 3.2 0.2 3.2 0.5 3.2 0.7 3.2 0.8 3.2 0.5 3.2 0.2 3.2-0.1 3.2 0.2 3.2 0.6 3.2 0.7 3.2 0.6 3.2 0.5 3.2 0.6 3.2 0.6 3.2 0.7 3.2 0.5 3.2 0.2 3.2 0 3.2 0.1 3.2 0.3 3.2 0.5 3.2 0.6 3.2 0.7 3.2 0.4 3.2 0.2 3.2 0.2 3.2 0.4 3.2 0.4 3.2 0.3 3.2 0.5 3.2 0.5 3.2 0.6 3.2 0.3 3.2 0.5 3.2 0.5 3.2 0.6 3.2 0.4 3.2 0.2 3.2 0.1 3.2 0.2 3.2 0.2 3.2 0.3 3.2 0.3 3.2 0.4 3.2 0.5 3.2 0.6 3.2 0.5 3.2 0.4 3.2 0.3 3.2 0.2 3.2 0.3 3.2 0.7 3.2 0.7 3.2 0.6 3.2 0.3 3.2 0.2 3.2 0.1 3.2 0 3.2 0.3 3.2 0.5 3.2 0.4 3.2 0.2 3.2 0.1 3.2 0.1 3.2 0.1 3.2 0.1 3.2 0.2 3.2 0.4 3.2 0.5 3.2 0.4 3.2 0.6 3.2 0.6 3.2 0.4 3.2 0.3 3.2 0.2 3.2 0.2 3.2 0.5 3.2 0.7 3.2 0.7 3.2 0.6 3.2 0.5 3.2 0.6 3.2 0.4 3.2 0.3 3.2 0 3.2 0.1 3.2 0 3.2 0.1 3.2 0.3 3.2 0.5 3.2 0.5 3.2 0.4 3.2 0.2 3.2 0.2 3.2 0.1 3.2 0.2 3.2 0.2 3.2 0.3 3.2 0.5 3.2 0.6 3.2 0.5 3.2 0.3 3.2 0.2 3.2 0.2 3.2 0.1 3.2 0.1 3.2 0.3 3.2 0.3 3.2 0.1 3.2-0.2 3.2-0.2 3.2 0 3.2 0.2 3.2 0.3 3.2 0.4 3.2 0.4 3.2 0.4 3.2 0.3 3.2 0 3.2 0.1 3.2 0.2 3.2 0.5 3.2 0.1 3.2-0.2 3.2-0.1 3.2 0.2 3.2 0.4 3.2 0.6 3.2 0.5 3.2 0.2 3.2 0 3.2 0.2 3.2 0.4 3.2 0.3 3.2 0.2 3.2 0.2 3.2 0.1 3.2 0.4 3.2 0.5 3.2 0.4 3.2 0.2 3.2 0.2 3.2 0.4 3.2 0.4 3.2 0.3 3.2 0.2 3.2 0.3 3.2 0.2 3.2 0.4 3.2 0.2 3.2 0 3.2-0.1 3.2 0.3 3.2 0.4 3.2 0.3 3.2 0.1 3.2 0.1 3.2 0.3 3.2 0.3 3.2 0.2 3.2 0.2 3.2 0.3 3.2 0.3 3.2 0 3.2 0 3.2 0 3.2 0 3.2 0 3.2 0.1 3.2 0.3 3.2 0.4 3.2 0.2 3.2 0.4 3.2 0.6 3.2 0.6 3.2 0.2 3.2 0 3.2 0.2 3.2 0.5 3.2 0.5 3.2 0.3 3.2 0.1 3.2 0.3 3.2 0.2 3.2 0.1 3.2-0.1 3.2 0.2 3.2 0.3 3.2 0.3 3.2 0.4 3.2 0.3 3.2 0.1 3.2 0.1 3.2 0.4 3.2 0.4 3.2 0.4 3.2 0 3.2-0.1 3.2 0 3.2 0.4 3.2 0.4 3.2 0.2 3.2-0.1 3.2 0 3.2 0.2 3.2 0.2 3.2 0.2 3.2 0.1 3.2 0.1 3.2 0.1 3.2 0.3 3.2 0.3 3.2 0.4 3.2 0.2 3.2 0 3.2-0.1 3.2 0 3.2 0 3.2 0 3.2 0.1 3.2 0.4 3.2 0.6 3.2 0.6 3.2 0.3 3.2 0 3.2 0.1 0.5 0.1 1 0 0 85 -860.1 0z" fill="#e2c54a"/>
<path d="M75.6 276.3l1 0 3.2 0.2 3.2 0.1 3.2 0.4 3.2 0.4 3.2 0.4 3.2 0.3 3.2 0 3.2-0.1 3.2-0.3 3.2-0.4 3.2 0.2 3.2 0.7 3.2 0.6 3.2 0.7 3.2 0.7 3.2 0.6 3.2 0.6 3.2 0.7 3.2 0.7 3.2 0.6 3.2 0.4 3.2 0.4 3.2 0.5 3.2 0.3 3.2 0.3 3.2 0.1 3.2 0 3.2 0 3.2 0.3 3.2 0.6 3.2 0.7 3.2 0.4 3.2 0.1 3.2 0.2 3.2 0.5 3.2 0.8 3.2 0.5 3.2 0.2 3.2 0.2 3.2 0.3 3.2 0.2 3.2 0.2 3.2 0.2 3.2 0.5 3.2 0.7 3.2 0.8 3.2 0.5 3.2 0.2 3.2-0.1 3.2 0.2 3.2 0.6 3.2 0.7 3.2 0.6 3.2 0.5 3.2 0.6 3.2 0.6 3.2 0.7 3.2 0.5 3.2 0.2 3.2 0 3.2 0.1 3.2 0.3 3.2 0.5 3.2 0.6 3.2 0.7 3.2 0.4 3.2 0.2 3.2 0.2 3.2 0.4 3.2 0.4 3.2 0.3 3.2 0.5 3.2 0.5 3.2 0.6 3.2 0.3 3.2 0.5 3.2 0.5 3.2 0.6 3.2 0.4 3.2 0.2 3.2 0.1 3.2 0.2 3.2 0.2 3.2 0.3 3.2 0.3 3.2 0.4 3.2 0.5 3.2 0.6 3.2 0.5 3.2 0.4 3.2 0.3 3.2 0.2 3.2 0.3 3.2 0.7 3.2 0.7 3.2 0.6 3.2 0.3 3.2 0.2 3.2 0.1 3.2 0 3.2 0.3 3.2 0.5 3.2 0.4 3.2 0.2 3.2 0.1 3.2 0.1 3.2 0.1 3.2 0.1 3.2 0.2 3.2 0.4 3.2 0.5 3.2 0.4 3.2 0.6 3.2 0.6 3.2 0.4 3.2 0.3 3.2 0.2 3.2 0.2 3.2 0.5 3.2 0.7 3.2 0.7 3.2 0.6 3.2 0.5 3.2 0.6 3.2 0.4 3.2 0.3 3.2 0 3.2 0.1 3.2 0 3.2 0.1 3.2 0.3 3.2 0.5 3.2 0.5 3.2 0.4 3.2 0.2 3.2 0.2 3.2 0.1 3.2 0.2 3.2 0.2 3.2 0.3 3.2 0.5 3.2 0.6 3.2 0.5 3.2 0.3 3.2 0.2 3.2 0.2 3.2 0.1 3.2 0.1 3.2 0.3 3.2 0.3 3.2 0.1 3.2-0.2 3.2-0.2 3.2 0 3.2 0.2 3.2 0.3 3.2 0.4 3.2 0.4 3.2 0.4 3.2 0.3 3.2 0 3.2 0.1 3.2 0.2 3.2 0.5 3.2 0.1 3.2-0.2 3.2-0.1 3.2 0.2 3.2 0.4 3.2 0.6 3.2 0.5 3.2 0.2 3.2 0 3.2 0.2 3.2 0.4 3.2 0.3 3.2 0.2 3.2 0.2 3.2 0.1 3.2 0.4 3.2 0.5 3.2 0.4 3.2 0.2 3.2 0.2 3.2 0.4 3.2 0.4 3.2 0.3 3.2 0.2 3.2 0.3 3.2 0.2 3.2 0.4 3.2 0.2 3.2 0 3.2-0.1 3.2 0.3 3.2 0.4 3.2 0.3 3.2 0.1 3.2 0.1 3.2 0.3 3.2 0.3 3.2 0.2 3.2 0.2 3.2 0.3 3.2 0.3 3.2 0 3.2 0 3.2 0 3.2 0 3.2 0 3.2 0.1 3.2 0.3 3.2 0.4 3.2 0.2 3.2 0.4 3.2 0.6 3.2 0.6 3.2 0.2 3.2 0 3.2 0.2 3.2 0.5 3.2 0.5 3.2 0.3 3.2 0.1 3.2 0.3 3.2 0.2 3.2 0.1 3.2-0.1 3.2 0.2 3.2 0.3 3.2 0.3 3.2 0.4 3.2 0.3 3.2 0.1 3.2 0.1 3.2 0.4 3.2 0.4 3.2 0.4 3.2 0 3.2-0.1 3.2 0 3.2 0.4 3.2 0.4 3.2 0.2 3.2-0.1 3.2 0 3.2 0.2 3.2 0.2 3.2 0.2 3.2 0.1 3.2 0.1 3.2 0.1 3.2 0.3 3.2 0.3 3.2 0.4 3.2 0.2 3.2 0 3.2-0.1 3.2 0 3.2 0 3.2 0 3.2 0.1 3.2 0.4 3.2 0.6 3.2 0.6 3.2 0.3 3.2 0 3.2 0.1 0.5 0.1 1 0 0 85 -860.1 0z" fill="url(#gOr)"/>
<path d="M75.6 282.7l1 0 3.2 0.4 3.2 0.2 3.2 0.2 3.2 0.2 3.2 0.4 3.2 0.3 3.2 0.2 3.2 0 3.2 0.2 3.2 0 3.2-0.1 3.2 0.1 3.2 0.3 3.2 0.6 3.2 0.9 3.2 0.9 3.2 0.6 3.2 0.4 3.2 0.4 3.2 0.6 3.2 0.5 3.2 0.7 3.2 0.5 3.2 0.5 3.2 0.2 3.2 0.6 3.2 0.8 3.2 0.4 3.2 0.3 3.2 0.3 3.2 0.4 3.2 0.4 3.2 0.4 3.2 0.5 3.2 0.5 3.2 0.3 3.2 0.6 3.2 0.7 3.2 0.6 3.2 0.3 3.2 0.3 3.2 0.4 3.2 0.5 3.2 0.3 3.2 0.3 3.2 0.3 3.2 0.3 3.2 0.2 3.2 0.2 3.2 0.5 3.2 0.5 3.2 0.4 3.2 0.4 3.2 0.2 3.2 0.4 3.2 0.4 3.2 0.6 3.2 0.6 3.2 0.5 3.2 0.6 3.2 0.7 3.2 0.6 3.2 0.2 3.2-0.1 3.2-0.2 3.2 0.2 3.2 0.4 3.2 0.6 3.2 0.5 3.2 0.2 3.2-0.1 3.2 0.1 3.2 0.5 3.2 0.6 3.2 0.8 3.2 0.7 3.2 0.3 3.2 0.3 3.2 0.5 3.2 0.6 3.2 0.3 3.2-0.2 3.2-0.1 3.2 0.2 3.2 0.6 3.2 0.6 3.2 0.4 3.2 0.3 3.2-0.1 3.2-0.1 3.2 0.1 3.2 0.4 3.2 0.4 3.2 0.5 3.2 0.6 3.2 0.5 3.2 0.3 3.2 0.3 3.2 0.3 3.2 0.5 3.2 0.4 3.2 0 3.2 0 3.2 0.1 3.2 0.2 3.2 0.2 3.2 0 3.2 0.2 3.2 0.3 3.2 0.4 3.2 0.4 3.2 0.5 3.2 0.7 3.2 0.5 3.2 0.2 3.2 0 3.2 0.2 3.2 0.5 3.2 0.3 3.2 0.2 3.2 0.3 3.2 0.5 3.2 0.6 3.2 0.4 3.2 0.2 3.2 0.2 3.2 0 3.2 0 3.2 0.2 3.2 0.3 3.2 0.2 3.2 0.1 3.2 0.2 3.2 0.2 3.2 0.2 3.2 0.3 3.2 0.2 3.2 0.3 3.2 0.7 3.2 0.8 3.2 0.6 3.2 0.3 3.2 0.4 3.2 0.4 3.2 0.1 3.2-0.1 3.2-0.2 3.2 0.2 3.2 0.1 3.2 0 3.2 0 3.2 0.2 3.2 0.3 3.2 0.2 3.2 0.3 3.2 0.5 3.2 0.4 3.2 0.3 3.2 0.4 3.2 0.3 3.2 0 3.2-0.2 3.2-0.1 3.2 0.3 3.2 0.6 3.2 0.5 3.2 0.4 3.2 0.2 3.2 0 3.2 0 3.2 0.1 3.2 0 3.2-0.1 3.2 0 3.2 0.4 3.2 0.7 3.2 0.4 3.2 0.2 3.2 0.2 3.2 0.4 3.2 0.5 3.2 0.4 3.2 0.3 3.2 0.3 3.2 0.2 3.2 0.2 3.2 0.2 3.2 0.1 3.2 0.2 3.2 0.2 3.2 0.4 3.2 0.4 3.2 0.5 3.2 0.4 3.2 0.4 3.2 0.4 3.2 0.4 3.2 0.2 3.2-0.1 3.2-0.2 3.2-0.1 3.2 0.1 3.2 0.4 3.2 0.3 3.2 0.1 3.2 0.1 3.2 0 3.2 0 3.2 0 3.2-0.2 3.2-0.2 3.2-0.3 3.2-0.1 3.2 0.1 3.2 0.5 3.2 0.7 3.2 0.7 3.2 0.7 3.2 0.5 3.2 0.2 3.2-0.1 3.2-0.2 3.2 0 3.2 0.3 3.2 0.3 3.2 0.1 3.2 0 3.2 0.1 3.2 0.1 3.2 0.2 3.2 0.2 3.2 0.5 3.2 0.4 3.2 0.1 3.2 0.1 3.2 0.1 3.2 0.3 3.2 0.3 3.2 0.2 3.2 0.1 3.2 0 3.2 0.2 3.2 0.1 3.2-0.1 3.2-0.1 3.2-0.1 3.2 0.3 3.2 0.3 3.2 0.2 3.2-0.1 3.2-0.1 3.2 0 3.2 0.2 3.2 0.3 3.2 0.3 3.2 0.1 3.2-0.1 3.2-0.1 3.2-0.1 3.2 0.1 3.2 0 3.2 0.1 3.2 0.3 3.2 0.4 3.2 0.5 3.2 0.2 3.2 0 3.2 0.1 0.5 0.1 1 0 0 85 -860.1 0z" fill="#fff3cc"/>
<path d="M75.6 285.4l1 0 3.2 0.3 3.2 0.3 3.2 0.6 3.2 0.4 3.2 0.1 3.2 0 3.2-0.1 3.2 0 3.2 0 3.2 0.2 3.2 0.2 3.2 0.5 3.2 0.4 3.2 0.5 3.2 0.6 3.2 0.4 3.2 0.6 3.2 0.7 3.2 0.5 3.2 0.3 3.2 0.1 3.2 0.4 3.2 0.5 3.2 0.4 3.2 0 3.2 0 3.2 0.4 3.2 0.4 3.2 0.5 3.2 0.5 3.2 0.4 3.2 0.4 3.2 0.3 3.2 0.5 3.2 0.6 3.2 0.4 3.2 0.5 3.2 0.5 3.2 0.4 3.2 0.3 3.2 0.1 3.2 0.3 3.2 0.4 3.2 0.3 3.2 0.3 3.2 0.3 3.2 0.3 3.2 0.2 3.2 0.2 3.2 0.5 3.2 0.5 3.2 0.4 3.2 0.4 3.2 0.2 3.2 0.4 3.2 0.4 3.2 0.6 3.2 0.6 3.2 0.5 3.2 0.6 3.2 0.7 3.2 0.6 3.2 0.2 3.2-0.1 3.2-0.2 3.2 0.2 3.2 0.4 3.2 0.6 3.2 0.5 3.2 0.2 3.2-0.1 3.2 0.1 3.2 0.5 3.2 0.6 3.2 0.8 3.2 0.7 3.2 0.3 3.2 0.3 3.2 0.5 3.2 0.6 3.2 0.3 3.2-0.2 3.2-0.1 3.2 0.2 3.2 0.6 3.2 0.6 3.2 0.4 3.2 0.3 3.2-0.1 3.2-0.1 3.2 0.1 3.2 0.4 3.2 0.4 3.2 0.5 3.2 0.6 3.2 0.5 3.2 0.3 3.2 0.3 3.2 0.3 3.2 0.5 3.2 0.4 3.2 0 3.2 0 3.2 0.1 3.2 0.2 3.2 0.2 3.2 0 3.2 0.2 3.2 0.3 3.2 0.4 3.2 0.4 3.2 0.5 3.2 0.7 3.2 0.5 3.2 0.2 3.2 0 3.2 0.2 3.2 0.5 3.2 0.3 3.2 0.2 3.2 0.3 3.2 0.5 3.2 0.6 3.2 0.4 3.2 0.2 3.2 0.2 3.2 0 3.2 0 3.2 0.2 3.2 0.3 3.2 0.2 3.2 0.1 3.2 0.2 3.2 0.2 3.2 0.2 3.2 0.3 3.2 0.2 3.2 0.3 3.2 0.7 3.2 0.8 3.2 0.6 3.2 0.3 3.2 0.4 3.2 0.4 3.2 0.1 3.2-0.1 3.2-0.2 3.2 0.2 3.2 0.1 3.2 0 3.2 0 3.2 0.2 3.2 0.3 3.2 0.2 3.2 0.3 3.2 0.5 3.2 0.4 3.2 0.3 3.2 0.4 3.2 0.3 3.2 0 3.2-0.2 3.2-0.1 3.2 0.3 3.2 0.6 3.2 0.5 3.2 0.4 3.2 0.2 3.2 0 3.2 0 3.2 0.1 3.2 0 3.2-0.1 3.2 0 3.2 0.4 3.2 0.7 3.2 0.4 3.2 0.2 3.2 0.2 3.2 0.4 3.2 0.5 3.2 0.4 3.2 0.3 3.2 0.3 3.2 0.2 3.2 0.2 3.2 0.2 3.2 0.1 3.2 0.2 3.2 0.2 3.2 0.4 3.2 0.4 3.2 0.5 3.2 0.4 3.2 0.4 3.2 0.4 3.2 0.4 3.2 0.2 3.2-0.1 3.2-0.2 3.2-0.1 3.2 0.1 3.2 0.4 3.2 0.3 3.2 0.1 3.2 0.1 3.2 0 3.2 0 3.2 0 3.2-0.2 3.2-0.2 3.2-0.3 3.2-0.1 3.2 0.1 3.2 0.5 3.2 0.7 3.2 0.7 3.2 0.7 3.2 0.5 3.2 0.2 3.2-0.1 3.2-0.2 3.2 0 3.2 0.3 3.2 0.3 3.2 0.1 3.2 0 3.2 0.1 3.2 0.1 3.2 0.2 3.2 0.2 3.2 0.5 3.2 0.4 3.2 0.1 3.2 0.1 3.2 0.1 3.2 0.3 3.2 0.3 3.2 0.2 3.2 0.1 3.2 0 3.2 0.2 3.2 0.1 3.2-0.1 3.2-0.1 3.2-0.1 3.2 0.3 3.2 0.3 3.2 0.2 3.2-0.1 3.2-0.1 3.2 0 3.2 0.2 3.2 0.3 3.2 0.3 3.2 0.1 3.2-0.1 3.2-0.1 3.2-0.1 3.2 0.1 3.2 0 3.2 0.1 3.2 0.3 3.2 0.4 3.2 0.5 3.2 0.2 3.2 0 3.2 0.1 0.5 0.1 1 0 0 85 -860.1 0z" fill="#70ad47"/>
<path d="M75.6 288.5l1 0 3.2 0.4 3.2 0.8 3.2 0.5 3.2 0.1 3.2 0.2 3.2 0.2 3.2 0 3.2-0.2 3.2 0 3.2-0.1 3.2 0 3.2 0.3 3.2 0.3 3.2 0.6 3.2 0.8 3.2 0.9 3.2 0.7 3.2 0.5 3.2 0.5 3.2 0.4 3.2 0 3.2-0.2 3.2-0.2 3.2 0.3 3.2 0.7 3.2 0.9 3.2 0.7 3.2 0.2 3.2 0.3 3.2 0.6 3.2 0.5 3.2 0.3 3.2 0.1 3.2 0.5 3.2 0.7 3.2 0.6 3.2 0.6 3.2 0.4 3.2 0.3 3.2 0.2 3.2 0.1 3.2 0.2 3.2 0.3 3.2 0.2 3.2 0.3 3.2 0.3 3.2 0.5 3.2 0.6 3.2 0.6 3.2 0.2 3.2 0.2 3.2 0.5 3.2 0.5 3.2 0.6 3.2 0.4 3.2 0.3 3.2 0.4 3.2 0.5 3.2 0.7 3.2 0.6 3.2 0.4 3.2 0.3 3.2 0.1 3.2 0.2 3.2 0.1 3.2 0.1 3.2 0.3 3.2 0.5 3.2 0.5 3.2 0.2 3.2 0.1 3.2 0.2 3.2 0.3 3.2 0.2 3.2 0.2 3.2 0.5 3.2 0.5 3.2 0.4 3.2 0.6 3.2 0.7 3.2 0.6 3.2 0.1 3.2 0 3.2 0.1 3.2 0.2 3.2 0.1 3.2-0.1 3.2-0.1 3.2 0.2 3.2 0.5 3.2 0.5 3.2 0.3 3.2 0.2 3.2 0.3 3.2 0.4 3.2 0.3 3.2 0.3 3.2 0.4 3.2 0.3 3.2 0.2 3.2 0 3.2 0 3.2 0.3 3.2 0.4 3.2 0.1 3.2 0.1 3.2 0.1 3.2 0.2 3.2 0.3 3.2 0.3 3.2 0.4 3.2 0.4 3.2 0.3 3.2 0.3 3.2 0.2 3.2 0.3 3.2 0.3 3.2 0.4 3.2 0.3 3.2 0.3 3.2 0.5 3.2 0.8 3.2 0.7 3.2 0.5 3.2 0.1 3.2-0.2 3.2-0.4 3.2-0.3 3.2 0.1 3.2 0.3 3.2 0.5 3.2 0.4 3.2 0.4 3.2 0.2 3.2 0.2 3.2 0.4 3.2 0.3 3.2 0.3 3.2 0.4 3.2 0.6 3.2 0.4 3.2 0.4 3.2 0.3 3.2 0.2 3.2 0.1 3.2 0 3.2 0 3.2 0.1 3.2 0.1 3.2 0 3.2-0.1 3.2 0 3.2 0.1 3.2 0.2 3.2 0.2 3.2 0.3 3.2 0.3 3.2 0.3 3.2 0.3 3.2 0.1 3.2 0 3.2-0.3 3.2-0.1 3.2 0.2 3.2 0.6 3.2 0.5 3.2 0.4 3.2 0.2 3.2 0 3.2 0 3.2 0.1 3.2 0 3.2-0.1 3.2 0 3.2 0.4 3.2 0.7 3.2 0.4 3.2 0.2 3.2 0.2 3.2 0.4 3.2 0.5 3.2 0.4 3.2 0.3 3.2 0.3 3.2 0.2 3.2 0.2 3.2 0.2 3.2 0.1 3.2 0.2 3.2 0.2 3.2 0.4 3.2 0.4 3.2 0.5 3.2 0.4 3.2 0.4 3.2 0.4 3.2 0.4 3.2 0.2 3.2-0.1 3.2-0.2 3.2-0.1 3.2 0.1 3.2 0.4 3.2 0.3 3.2 0.1 3.2 0.1 3.2 0 3.2 0 3.2 0 3.2-0.2 3.2-0.2 3.2-0.3 3.2-0.1 3.2 0.1 3.2 0.5 3.2 0.7 3.2 0.7 3.2 0.7 3.2 0.5 3.2 0.2 3.2-0.1 3.2-0.2 3.2 0 3.2 0.3 3.2 0.3 3.2 0.1 3.2 0 3.2 0.1 3.2 0.1 3.2 0.2 3.2 0.2 3.2 0.5 3.2 0.4 3.2 0.1 3.2 0.1 3.2 0.1 3.2 0.3 3.2 0.3 3.2 0.2 3.2 0.1 3.2 0 3.2 0.2 3.2 0.1 3.2-0.1 3.2-0.1 3.2-0.1 3.2 0.3 3.2 0.3 3.2 0.2 3.2-0.1 3.2-0.1 3.2 0 3.2 0.2 3.2 0.3 3.2 0.3 3.2 0.1 3.2-0.1 3.2-0.1 3.2-0.1 3.2 0.1 3.2 0 3.2 0.1 3.2 0.3 3.2 0.4 3.2 0.5 3.2 0.2 3.2 0 3.2 0.1 0.5 0.1 1 0 0 85 -860.1 0z" fill="url(#gDg)"/>
<path d="M75.6 290.5l1 0 3.2 0.3 3.2 0.3 3.2 0.3 3.2 0.5 3.2 0.5 3.2 0.3 3.2 0.3 3.2-0.2 3.2-0.5 3.2-0.4 3.2 0.1 3.2 0.6 3.2 0.7 3.2 0.6 3.2 0.7 3.2 0.8 3.2 0.6 3.2 0.5 3.2 0.4 3.2 0.5 3.2 0.1 3.2-0.1 3.2 0 3.2 0.3 3.2 0.3 3.2 0.4 3.2 0.4 3.2 0.4 3.2 0.5 3.2 0.6 3.2 0.6 3.2 0.4 3.2 0.3 3.2 0.4 3.2 0.6 3.2 0.4 3.2 0.4 3.2 0.3 3.2 0.5 3.2 0.5 3.2 0.2 3.2 0 3.2 0 3.2 0.2 3.2 0.4 3.2 0.1 3.2 0.4 3.2 0.5 3.2 0.4 3.2 0.3 3.2 0.3 3.2 0.6 3.2 0.4 3.2 0.3 3.2 0.4 3.2 0.6 3.2 0.5 3.2 0.5 3.2 0.5 3.2 0.6 3.2 0.4 3.2 0.4 3.2 0.2 3.2 0.3 3.2 0.3 3.2 0.2 3.2 0.3 3.2 0.4 3.2 0.2 3.2 0.1 3.2 0 3.2 0 3.2 0.2 3.2 0.3 3.2 0.5 3.2 0.6 3.2 0.6 3.2 0.4 3.2 0.3 3.2 0.5 3.2 0.4 3.2 0.3 3.2 0.1 3.2 0.1 3.2 0.1 3.2 0 3.2 0 3.2 0.1 3.2 0.4 3.2 0.4 3.2 0.4 3.2 0.3 3.2 0.4 3.2 0.5 3.2 0.4 3.2 0.2 3.2 0.2 3.2 0.4 3.2 0.4 3.2 0.3 3.2 0 3.2 0.1 3.2 0.1 3.2 0.2 3.2 0.2 3.2 0.2 3.2 0.3 3.2 0.3 3.2 0.3 3.2 0.2 3.2 0.2 3.2 0.4 3.2 0.4 3.2 0.5 3.2 0.4 3.2 0.2 3.2 0.2 3.2 0.2 3.2 0.2 3.2 0.3 3.2 0.5 3.2 0.6 3.2 0.3 3.2 0.3 3.2 0.5 3.2 0.6 3.2 0.2 3.2-0.1 3.2-0.1 3.2 0.3 3.2 0.3 3.2 0.2 3.2 0.3 3.2 0.5 3.2 0.5 3.2 0.5 3.2 0.4 3.2 0.2 3.2 0.2 3.2 0.2 3.2 0.3 3.2 0.4 3.2 0.4 3.2 0.4 3.2 0.1 3.2 0 3.2 0.1 3.2-0.1 3.2-0.1 3.2 0 3.2 0.2 3.2 0.4 3.2 0.1 3.2-0.2 3.2-0.2 3.2-0.1 3.2-0.1 3.2 0.3 3.2 0.5 3.2 0.4 3.2 0.3 3.2 0.3 3.2 0.1 3.2-0.1 3.2 0 3.2 0.2 3.2 0.2 3.2 0.2 3.2 0.5 3.2 0.5 3.2 0.5 3.2 0.2 3.2 0.3 3.2 0.3 3.2 0.1 3.2 0.2 3.2 0.4 3.2 0.3 3.2 0.1 3.2 0 3.2 0 3.2 0.1 3.2 0.3 3.2 0.5 3.2 0.4 3.2 0.3 3.2 0.4 3.2 0.3 3.2 0.3 3.2 0.3 3.2 0.3 3.2 0.3 3.2 0.2 3.2 0.2 3.2 0.2 3.2 0.2 3.2 0.2 3.2 0.2 3.2 0.2 3.2-0.1 3.2-0.2 3.2 0 3.2 0.5 3.2 0.6 3.2 0.5 3.2 0 3.2-0.1 3.2-0.3 3.2-0.2 3.2 0 3.2 0.1 3.2 0 3.2-0.1 3.2 0.1 3.2 0.2 3.2 0.5 3.2 0.5 3.2 0.6 3.2 0.4 3.2 0.2 3.2 0 3.2-0.1 3.2-0.1 3.2 0.1 3.2 0.2 3.2 0.3 3.2 0.1 3.2-0.1 3.2 0 3.2 0 3.2 0.2 3.2 0.3 3.2 0.4 3.2 0.2 3.2 0.1 3.2-0.1 3.2 0.1 3.2 0.3 3.2 0.4 3.2 0.1 3.2 0.1 3.2 0 3.2 0 3.2-0.1 3.2-0.2 3.2 0.1 3.2 0.3 3.2 0.2 3.2 0.1 3.2-0.1 3.2-0.1 3.2 0 3.2 0.2 3.2 0.2 3.2 0.2 3.2 0.1 3.2-0.1 3.2-0.1 3.2-0.1 3.2 0 3.2 0 3.2 0.1 3.2 0.3 3.2 0.4 3.2 0.4 3.2 0.2 3.2 0 3.2 0.1 0.5 0.1 1 0 0 85 -860.1 0z" fill="#4472c4"/>
<path d="M75.6 295.6l1 0 3.2 0.4 3.2 0.4 3.2 0.3 3.2 0.2 3.2 0.3 3.2 0.4 3.2 0.1 3.2-0.1 3.2-0.1 3.2 0 3.2 0.4 3.2 0.5 3.2 0.2 3.2 0.2 3.2 0.5 3.2 0.9 3.2 0.8 3.2 0.5 3.2 0.6 3.2 0.7 3.2 0.3 3.2 0 3.2 0.1 3.2 0.4 3.2 0.1 3.2 0 3.2 0.2 3.2 0.6 3.2 0.8 3.2 0.8 3.2 0.7 3.2 0.7 3.2 0.5 3.2 0.3 3.2 0.2 3.2 0.3 3.2 0.6 3.2 0.7 3.2 0.5 3.2 0.4 3.2 0 3.2 0 3.2 0 3.2 0.1 3.2 0.3 3.2 0.3 3.2 0.5 3.2 0.5 3.2 0.2 3.2 0.2 3.2 0.3 3.2 0.6 3.2 0.6 3.2 0.4 3.2 0.5 3.2 0.7 3.2 0.7 3.2 0.6 3.2 0.6 3.2 0.4 3.2 0.3 3.2 0.3 3.2 0.2 3.2 0.2 3.2 0.2 3.2 0.1 3.2 0.1 3.2 0.6 3.2 0.8 3.2 0.6 3.2 0 3.2-0.2 3.2 0.1 3.2 0.5 3.2 0.5 3.2 0.4 3.2 0.3 3.2 0.5 3.2 0.6 3.2 0.6 3.2 0.3 3.2 0.2 3.2 0.3 3.2 0.4 3.2 0.3 3.2 0.1 3.2 0 3.2 0.1 3.2 0.3 3.2 0.4 3.2 0.6 3.2 0.4 3.2 0.3 3.2 0.5 3.2 0.8 3.2 0.7 3.2 0.4 3.2 0.1 3.2 0.1 3.2 0.3 3.2 0.5 3.2 0.3 3.2 0 3.2 0 3.2 0.2 3.2 0.4 3.2 0.4 3.2 0.3 3.2 0.2 3.2 0.2 3.2 0.3 3.2 0.1 3.2 0.1 3.2 0.5 3.2 0.6 3.2 0.5 3.2 0.3 3.2 0.2 3.2 0.2 3.2 0.4 3.2 0.3 3.2 0.4 3.2 0.3 3.2 0.3 3.2 0.4 3.2 0.3 3.2 0 3.2 0 3.2 0.1 3.2 0.5 3.2 0.6 3.2 0.3 3.2 0 3.2 0 3.2 0.2 3.2 0.5 3.2 0.5 3.2 0.4 3.2 0.2 3.2 0.4 3.2 0.3 3.2 0.2 3.2 0.2 3.2 0.3 3.2 0.5 3.2 0.3 3.2 0.1 3.2 0 3.2 0.1 3.2 0.1 3.2-0.1 3.2-0.1 3.2 0 3.2 0.2 3.2 0.3 3.2 0.2 3.2 0.1 3.2 0.1 3.2 0.2 3.2 0.2 3.2 0.3 3.2 0.2 3.2 0.1 3.2 0.2 3.2 0.1 3.2 0.1 3.2 0.1 3.2 0.3 3.2 0.6 3.2 0.7 3.2 0.7 3.2 0.2 3.2-0.1 3.2-0.1 3.2 0.2 3.2 0.3 3.2 0.2 3.2 0.1 3.2 0.2 3.2 0.2 3.2 0.2 3.2 0.3 3.2 0.3 3.2 0.3 3.2 0.4 3.2 0.5 3.2 0.5 3.2 0.3 3.2 0.2 3.2 0.4 3.2 0.5 3.2 0.6 3.2 0.3 3.2 0.1 3.2 0 3.2 0.1 3.2 0.2 3.2 0.2 3.2 0.2 3.2 0.3 3.2 0.2 3.2 0.2 3.2 0 3.2 0 3.2-0.1 3.2 0 3.2 0 3.2 0.1 3.2 0.2 3.2 0.1 3.2-0.2 3.2-0.4 3.2-0.2 3.2 0 3.2 0.2 3.2 0.3 3.2 0.4 3.2 0.6 3.2 0.4 3.2 0 3.2-0.1 3.2-0.1 3.2 0.2 3.2 0.1 3.2 0 3.2-0.1 3.2 0 3.2 0.1 3.2-0.1 3.2 0 3.2 0.2 3.2 0.4 3.2 0.2 3.2 0 3.2-0.1 3.2 0 3.2 0.3 3.2 0.3 3.2 0.3 3.2 0.2 3.2 0 3.2 0 3.2-0.1 3.2 0 3.2 0.1 3.2-0.1 3.2-0.2 3.2 0 3.2 0.4 3.2 0.5 3.2 0.3 3.2 0.1 3.2 0 3.2-0.1 3.2-0.1 3.2 0 3.2 0.1 3.2 0.1 3.2 0.2 3.2 0.3 3.2 0.6 3.2 0.5 3.2 0.4 3.2 0.4 3.2 0.2 3.2-0.1 3.2 0 3.2 0.2 0.5 0.1 1 0 0 75.7 -860.1 0z" fill="#5b9bd5"/>
<path d="M75.6 306.7l1 0 3.2 0.3 3.2 0.3 3.2 0.5 3.2 0.5 3.2 0.4 3.2 0.4 3.2 0.2 3.2-0.1 3.2-0.1 3.2-0.1 3.2 0 3.2 0.4 3.2 0.6 3.2 0.6 3.2 0.4 3.2 0.3 3.2 0.7 3.2 0.8 3.2 0.6 3.2 0.4 3.2 0.1 3.2 0 3.2 0 3.2 0.4 3.2 0.4 3.2 0.4 3.2 0.4 3.2 0.1 3.2 0.3 3.2 0.7 3.2 0.9 3.2 0.6 3.2 0.1 3.2 0.3 3.2 0.6 3.2 0.4 3.2 0.3 3.2 0.3 3.2 0.5 3.2 0.4 3.2 0.2 3.2 0 3.2 0 3.2 0.4 3.2 1 3.2 0.8 3.2 0.4 3.2 0.1 3.2 0.3 3.2 0.6 3.2 0.5 3.2 0.4 3.2 0.3 3.2 0.3 3.2 0.8 3.2 0.7 3.2 0.5 3.2 0.3 3.2 0.6 3.2 0.7 3.2 0.7 3.2 0.6 3.2 0.5 3.2 0.3 3.2 0.1 3.2 0.2 3.2 0.4 3.2 0.3 3.2 0.3 3.2 0.1 3.2-0.1 3.2 0.2 3.2 0.5 3.2 0.3 3.2 0.1 3.2 0 3.2 0.3 3.2 0.6 3.2 0.5 3.2 0.3 3.2 0.2 3.2 0.3 3.2 0.2 3.2 0.2 3.2 0.4 3.2 0.5 3.2 0.3 3.2 0.1 3.2 0.3 3.2 0.2 3.2 0.2 3.2 0.2 3.2 0.4 3.2 0.7 3.2 0.8 3.2 0.6 3.2 0.3 3.2 0 3.2 0.2 3.2 0.4 3.2 0.3 3.2 0.2 3.2 0.2 3.2 0.2 3.2 0.4 3.2 0.1 3.2 0 3.2 0 3.2 0.3 3.2 0.4 3.2 0.3 3.2 0.2 3.2 0 3.2 0.2 3.2 0.3 3.2 0.4 3.2 0.2 3.2-0.2 3.2-0.1 3.2 0 3.2 0.3 3.2 0.4 3.2 0.4 3.2 0.4 3.2 0 3.2-0.1 3.2-0.1 3.2 0 3.2 0.1 3.2 0.2 3.2 0.4 3.2 0.2 3.2 0.2 3.2 0 3.2 0.1 3.2 0.4 3.2 0.7 3.2 0.5 3.2 0.3 3.2 0.1 3.2 0.2 3.2 0.2 3.2 0.3 3.2 0.6 3.2 0.4 3.2 0.2 3.2 0 3.2 0 3.2 0.2 3.2 0 3.2 0 3.2 0.1 3.2 0.5 3.2 0.6 3.2 0.4 3.2 0.3 3.2 0.1 3.2-0.1 3.2 0.1 3.2 0.4 3.2 0.4 3.2 0.4 3.2 0.1 3.2 0.1 3.2 0.1 3.2 0.3 3.2 0.2 3.2 0.2 3.2 0 3.2 0.1 3.2 0.4 3.2 0.4 3.2 0.3 3.2 0.2 3.2 0.1 3.2 0 3.2-0.1 3.2 0.1 3.2 0.3 3.2 0.6 3.2 0.6 3.2 0.7 3.2 0.3 3.2 0.1 3.2-0.1 3.2-0.1 3.2 0.1 3.2 0.3 3.2 0.7 3.2 0.4 3.2 0.3 3.2 0.4 3.2 0.4 3.2 0.4 3.2 0.1 3.2 0.2 3.2 0.5 3.2 0.4 3.2 0.2 3.2 0.1 3.2 0.1 3.2 0.4 3.2 0.3 3.2 0.1 3.2 0.1 3.2-0.1 3.2-0.1 3.2 0 3.2 0.4 3.2 0.4 3.2 0.3 3.2-0.1 3.2-0.2 3.2 0.2 3.2 0.4 3.2 0.5 3.2 0.2 3.2 0 3.2 0.2 3.2 0.3 3.2 0.1 3.2 0.1 3.2 0.2 3.2 0.4 3.2 0.4 3.2 0.1 3.2 0 3.2 0 3.2 0.1 3.2 0.1 3.2-0.1 3.2 0 3.2 0.3 3.2 0.5 3.2 0.3 3.2 0.2 3.2 0.1 3.2 0 3.2 0 3.2 0.3 3.2 0.4 3.2 0.4 3.2 0.2 3.2 0.1 3.2 0 3.2-0.1 3.2-0.1 3.2 0 3.2 0.2 3.2 0.3 3.2 0.2 3.2-0.1 3.2-0.1 3.2 0 3.2 0.2 3.2 0 3.2-0.2 3.2-0.1 3.2 0.2 3.2 0.2 3.2 0.1 3.2 0.1 3.2 0.3 3.2 0.9 3.2 0.7 3.2 0.3 3.2 0 3.2-0.2 0.5-0.2 1 0 0 64.6 -860.1 0z" fill="#7c9fd8"/>
<path d="M75.6 314.2l1 0 3.2 0.3 3.2 0.4 3.2 0.4 3.2 0.4 3.2 0.2 3.2-0.1 3.2 0 3.2 0.1 3.2 0.2 3.2 0.3 3.2 0.3 3.2 0.3 3.2 0.2 3.2 0.5 3.2 0.8 3.2 0.6 3.2 0.4 3.2 0.2 3.2 0.3 3.2 0.5 3.2 0.1 3.2 0 3.2-0.1 3.2 0.3 3.2 0.3 3.2 0.5 3.2 0.4 3.2 0.4 3.2 0.6 3.2 0.7 3.2 0.7 3.2 0.5 3.2 0.2 3.2 0.5 3.2 0.7 3.2 0.5 3.2 0.3 3.2 0 3.2-0.1 3.2 0.1 3.2 0 3.2 0.1 3.2 0.4 3.2 0.4 3.2 0.6 3.2 0.3 3.2 0.5 3.2 0.4 3.2 0.3 3.2 0.1 3.2 0.2 3.2 0.3 3.2 0.3 3.2 0.2 3.2 0.5 3.2 0.5 3.2 0.6 3.2 0.6 3.2 0.6 3.2 0.6 3.2 0.5 3.2 0.4 3.2 0.2 3.2 0.2 3.2 0.2 3.2 0.4 3.2 0.5 3.2 0.4 3.2 0.4 3.2 0.4 3.2 0 3.2 0.2 3.2 0.5 3.2 0.6 3.2 0.4 3.2 0.4 3.2 0.4 3.2 0.3 3.2 0.2 3.2 0.2 3.2 0.3 3.2 0.3 3.2 0.2 3.2 0.3 3.2 0.2 3.2 0.1 3.2-0.1 3.2 0 3.2 0.3 3.2 0.5 3.2 0.3 3.2 0 3.2 0.2 3.2 0.3 3.2 0.2 3.2 0.1 3.2 0.2 3.2 0.2 3.2 0.3 3.2 0.3 3.2 0.4 3.2 0.2 3.2 0 3.2 0.1 3.2 0.3 3.2 0.3 3.2 0.1 3.2 0.1 3.2 0.2 3.2 0.2 3.2 0.3 3.2 0.4 3.2 0.4 3.2 0.5 3.2 0.4 3.2 0.1 3.2-0.1 3.2 0 3.2 0.2 3.2 0.3 3.2 0.4 3.2 0.5 3.2 0.6 3.2 0.6 3.2 0.5 3.2 0.3 3.2-0.1 3.2-0.4 3.2-0.2 3.2 0.2 3.2 0.5 3.2 0.4 3.2 0.2 3.2 0.1 3.2 0.2 3.2 0.4 3.2 0.4 3.2 0.3 3.2 0.4 3.2 0.6 3.2 0.5 3.2 0.4 3.2 0.4 3.2 0.4 3.2 0.4 3.2 0 3.2-0.2 3.2 0 3.2 0.1 3.2 0.2 3.2 0.3 3.2 0.4 3.2 0.3 3.2 0.3 3.2 0.1 3.2 0.1 3.2 0.2 3.2 0.3 3.2 0.5 3.2 0.4 3.2 0.3 3.2 0.2 3.2 0 3.2-0.1 3.2-0.1 3.2 0.1 3.2 0.1 3.2 0.3 3.2 0.3 3.2 0.2 3.2-0.1 3.2 0 3.2 0.3 3.2 0.5 3.2 0.6 3.2 0.3 3.2 0.2 3.2 0.1 3.2 0.1 3.2 0.3 3.2 0.5 3.2 0.6 3.2 0.3 3.2 0.1 3.2 0 3.2 0.1 3.2 0.3 3.2 0.4 3.2 0.5 3.2 0.4 3.2 0.4 3.2 0.3 3.2 0.2 3.2 0.2 3.2 0.1 3.2-0.1 3.2-0.3 3.2-0.4 3.2-0.2 3.2 0.3 3.2 0.4 3.2 0.4 3.2 0 3.2-0.1 3.2 0.1 3.2 0.1 3.2 0 3.2-0.3 3.2-0.1 3.2 0 3.2 0 3.2-0.2 3.2-0.2 3.2 0 3.2 0.2 3.2 0.4 3.2 0.2 3.2 0.1 3.2 0.2 3.2 0.3 3.2-0.1 3.2-0.2 3.2 0 3.2 0.2 3.2 0.2 3.2 0 3.2 0 3.2 0 3.2 0.1 3.2 0.1 3.2-0.1 3.2 0 3.2 0.3 3.2 0.5 3.2 0.3 3.2 0.2 3.2 0.1 3.2 0 3.2 0 3.2 0.3 3.2 0.4 3.2 0.4 3.2 0.2 3.2 0.1 3.2 0 3.2-0.1 3.2-0.1 3.2 0 3.2 0.2 3.2 0.3 3.2 0.2 3.2-0.1 3.2-0.1 3.2 0 3.2 0.2 3.2 0 3.2-0.2 3.2-0.1 3.2 0.2 3.2 0.2 3.2 0.1 3.2 0.1 3.2 0.3 3.2 0.9 3.2 0.7 3.2 0.3 3.2 0 3.2-0.2 0.5-0.2 1 0 0 64.6 -860.1 0z" fill="#acd39a"/>
<path d="M75.6 320.8l1 0 3.2 0.5 3.2 0.6 3.2 0.6 3.2 0.7 3.2 0.7 3.2 0.3 3.2 0 3.2 0.1 3.2 0.2 3.2 0 3.2 0 3.2 0.2 3.2 0.2 3.2 0.5 3.2 0.6 3.2 0.5 3.2 0.4 3.2 0.4 3.2 0.8 3.2 0.7 3.2-0.4 3.2-0.8 3.2-0.4 3.2 0.7 3.2 0.5 3.2 0.2 3.2 0.2 3.2 0.3 3.2 0.6 3.2 1 3.2 1 3.2 0.9 3.2 0.5 3.2 0.4 3.2 0 3.2 0.1 3.2 0.2 3.2 0.5 3.2 0.5 3.2 0.5 3.2-0.1 3.2-0.1 3.2 0.1 3.2 0.4 3.2 0.7 3.2 0.2 3.2 0.2 3.2 0 3.2 0.1 3.2 0.3 3.2 0.5 3.2 0.7 3.2 0.3 3.2 0.2 3.2 0.5 3.2 0.6 3.2 0.7 3.2 0.9 3.2 0.6 3.2 0.3 3.2 0.2 3.2 0.5 3.2 0.7 3.2 0.7 3.2 0.4 3.2 0.4 3.2 0.4 3.2 0.2 3.2 0.1 3.2-0.1 3.2-0.2 3.2 0.5 3.2 0.9 3.2 0.7 3.2 0.3 3.2 0 3.2-0.1 3.2 0.1 3.2 0.3 3.2 0.6 3.2 0.3 3.2 0.1 3.2 0.1 3.2 0.2 3.2 0.4 3.2 0.3 3.2-0.1 3.2 0 3.2 0.3 3.2 0.4 3.2 0.1 3.2 0.1 3.2 0.3 3.2 0.5 3.2 0.4 3.2 0.4 3.2 0.3 3.2 0.2 3.2 0 3.2 0.2 3.2 0.3 3.2 0.2 3.2 0 3.2-0.1 3.2 0.1 3.2 0.1 3.2-0.2 3.2-0.1 3.2 0.3 3.2 0.6 3.2 0.8 3.2 0.4 3.2 0.3 3.2 0.3 3.2 0.3 3.2 0.4 3.2 0.3 3.2 0.2 3.2 0 3.2 0.3 3.2 0.3 3.2 0.5 3.2 0.5 3.2 0.6 3.2 0.6 3.2 0.3 3.2 0.1 3.2-0.1 3.2-0.2 3.2 0.2 3.2 0.4 3.2 0.4 3.2 0.2 3.2 0 3.2 0.2 3.2 0.4 3.2 0.4 3.2 0.4 3.2 0.5 3.2 0.4 3.2 0.3 3.2 0.4 3.2 0.5 3.2 0.6 3.2 0.2 3.2 0.1 3.2-0.1 3.2-0.1 3.2 0 3.2-0.1 3.2-0.1 3.2-0.1 3.2 0 3.2 0.5 3.2 0.6 3.2 0.7 3.2 0.4 3.2 0.2 3.2 0.1 3.2 0 3.2 0.3 3.2 0.5 3.2 0.4 3.2 0 3.2-0.2 3.2 0 3.2 0.4 3.2 0.6 3.2 0.5 3.2 0.1 3.2 0 3.2 0.1 3.2 0.3 3.2 0.3 3.2 0.3 3.2 0.2 3.2 0 3.2 0 3.2 0 3.2 0.4 3.2 0.4 3.2 0.5 3.2 0.6 3.2 0.4 3.2-0.1 3.2-0.3 3.2 0.3 3.2 0.9 3.2 0.7 3.2 0.3 3.2 0 3.2 0.2 3.2 0.2 3.2 0.2 3.2 0.3 3.2 0.2 3.2 0.2 3.2-0.1 3.2-0.2 3.2-0.1 3.2 0.2 3.2 0.5 3.2 0.2 3.2 0 3.2-0.2 3.2-0.2 3.2-0.1 3.2-0.1 3.2 0 3.2 0.1 3.2 0 3.2-0.2 3.2-0.5 3.2-0.3 3.2 0.3 3.2 0.5 3.2 0.3 3.2 0.1 3.2 0.2 3.2 0.2 3.2 0.2 3.2 0 3.2-0.1 3.2-0.1 3.2 0 3.2-0.1 3.2 0.1 3.2 0.3 3.2 0.3 3.2-0.1 3.2 0 3.2 0.2 3.2 0.3 3.2 0.2 3.2 0.2 3.2 0.4 3.2 0.5 3.2 0.5 3.2 0.2 3.2 0 3.2-0.1 3.2-0.1 3.2 0.3 3.2 0.4 3.2 0.4 3.2 0.2 3.2-0.3 3.2-0.2 3.2 0 3.2 0.1 3.2 0.1 3.2 0.1 3.2 0.2 3.2 0.2 3.2 0.2 3.2 0.1 3.2 0.2 3.2 0.3 3.2 0.3 3.2 0.1 3.2 0 3.2 0 3.2 0.1 3.2 0.2 3.2 0.3 3.2 0.3 3.2 0.3 3.2 0.1 0.5-0.1 1 0 0 55.3 -860.1 0z" fill="#93b2de"/>
<path d="M75.6 323.6l1 0 3.2 0.5 3.2 0.6 3.2 0.5 3.2 0.4 3.2 0.4 3.2 0.4 3.2 0.2 3.2 0.2 3.2 0.1 3.2 0.1 3.2 0.4 3.2 0.5 3.2 0.6 3.2 0.5 3.2 0.7 3.2 0.4 3.2 0 3.2 0.2 3.2 0.4 3.2 0.7 3.2 0 3.2-0.4 3.2-0.5 3.2 0.3 3.2 0.5 3.2 0.5 3.2 0.1 3.2 0.1 3.2 0.4 3.2 1 3.2 1.2 3.2 0.9 3.2 0.4 3.2 0.4 3.2 0.1 3.2 0 3.2 0.2 3.2 0.4 3.2 0.5 3.2 0.4 3.2-0.2 3.2-0.2 3.2 0.1 3.2 0.8 3.2 1.2 3.2 0.1 3.2-0.1 3.2 0.1 3.2 0.5 3.2 0.6 3.2 0.2 3.2 0.3 3.2 0.5 3.2 0.6 3.2 0.9 3.2 0.7 3.2 0.6 3.2 0.6 3.2 0.7 3.2 0.6 3.2 0.6 3.2 0.8 3.2 0.5 3.2 0.1 3.2-0.2 3.2 0.1 3.2 0.3 3.2 0.1 3.2 0.2 3.2 0.2 3.2 0.1 3.2 0.3 3.2 0.5 3.2 0.2 3.2 0 3.2 0.1 3.2 0.2 3.2 0.3 3.2 0.4 3.2 0.4 3.2 0.2 3.2 0.3 3.2 0.5 3.2 0.5 3.2 0.4 3.2 0.2 3.2 0.1 3.2 0 3.2-0.1 3.2 0.1 3.2 0.2 3.2 0.4 3.2 0.5 3.2 0.7 3.2 0.6 3.2 0.5 3.2 0.5 3.2 0.4 3.2 0.2 3.2 0.2 3.2 0.1 3.2 0.1 3.2 0.1 3.2 0.2 3.2 0.2 3.2 0 3.2-0.1 3.2-0.1 3.2 0.3 3.2 0.5 3.2 0.8 3.2 0.7 3.2 0.6 3.2 0.2 3.2-0.1 3.2-0.1 3.2 0.2 3.2 0.4 3.2 0.3 3.2 0.4 3.2 0.2 3.2 0.3 3.2 0.4 3.2 0.5 3.2 0.4 3.2 0.2 3.2 0 3.2 0.3 3.2 0.4 3.2 0.5 3.2 0.2 3.2-0.1 3.2-0.1 3.2 0 3.2 0.2 3.2 0.5 3.2 0.6 3.2 0.8 3.2 0.5 3.2 0.3 3.2 0.3 3.2 0.1 3.2 0 3.2 0.2 3.2 0.3 3.2 0.2 3.2-0.1 3.2-0.1 3.2 0.2 3.2 0.4 3.2 0.5 3.2 0.3 3.2 0.1 3.2-0.2 3.2-0.1 3.2 0.2 3.2 0.5 3.2 0.4 3.2 0.2 3.2 0.3 3.2 0.3 3.2 0.2 3.2-0.2 3.2 0 3.2 0.3 3.2 0.3 3.2 0.1 3.2 0.1 3.2 0.2 3.2 0.3 3.2 0.4 3.2 0.6 3.2 0.6 3.2 0.4 3.2 0.3 3.2 0.2 3.2 0.2 3.2 0.3 3.2 0.4 3.2 0.5 3.2 0.3 3.2 0.1 3.2 0.1 3.2 0.1 3.2 0.3 3.2 0.3 3.2 0.4 3.2 0.2 3.2 0.1 3.2 0.1 3.2 0.5 3.2 0.6 3.2 0.4 3.2 0.1 3.2-0.1 3.2 0 3.2 0 3.2 0.1 3.2 0.1 3.2 0.1 3.2 0.2 3.2 0.1 3.2 0.1 3.2 0 3.2 0.1 3.2 0.1 3.2 0.1 3.2 0.3 3.2 0.2 3.2-0.1 3.2-0.3 3.2 0 3.2 0.3 3.2 0.4 3.2 0.2 3.2 0.1 3.2 0.1 3.2 0.3 3.2 0.3 3.2 0.2 3.2-0.1 3.2-0.4 3.2-0.2 3.2 0 3.2 0.2 3.2 0.2 3.2 0.2 3.2 0.2 3.2 0.3 3.2 0.4 3.2 0.5 3.2 0.4 3.2 0.2 3.2 0.2 3.2 0.3 3.2 0.3 3.2 0.2 3.2 0 3.2 0.3 3.2 0.5 3.2 0.2 3.2-0.1 3.2 0.1 3.2 0.3 3.2 0.6 3.2 0.4 3.2 0 3.2-0.2 3.2-0.2 3.2-0.2 3.2-0.1 3.2 0 3.2 0 3.2 0.1 3.2 0.1 3.2 0.3 3.2 0.3 3.2 0.4 3.2 0.2 3.2 0.2 3.2 0.3 3.2 0.1 3.2 0.1 3.2 0.2 3.2 0.3 3.2 0.4 3.2 0.2 3.2 0.2 0.5 0.1 1 0 0 47.4 -860.1 0z" fill="#264478"/>
<path d="M75.6 326.5l1 0 3.2 0.5 3.2 0.3 3.2 0.3 3.2 0 3.2 0 3.2 0 3.2-0.1 3.2-0.3 3.2-0.3 3.2 0.1 3.2 0.4 3.2 0.5 3.2 0.6 3.2 0.5 3.2 0.7 3.2 0.4 3.2 0 3.2 0.2 3.2 0.4 3.2 0.7 3.2 0 3.2-0.4 3.2-0.5 3.2 0.3 3.2 0.5 3.2 0.5 3.2 0.1 3.2 0.1 3.2 0.4 3.2 1 3.2 1.2 3.2 0.9 3.2 0.4 3.2 0.4 3.2 0.1 3.2 0 3.2 0.2 3.2 0.4 3.2 0.5 3.2 0.4 3.2-0.2 3.2-0.2 3.2 0.1 3.2 0.8 3.2 1.2 3.2 0.1 3.2-0.1 3.2 0.1 3.2 0.5 3.2 0.6 3.2 0.2 3.2 0.3 3.2 0.5 3.2 0.6 3.2 0.9 3.2 0.7 3.2 0.6 3.2 0.6 3.2 0.7 3.2 0.6 3.2 0.6 3.2 0.8 3.2 0.5 3.2 0.1 3.2-0.2 3.2 0.1 3.2 0.3 3.2 0.1 3.2 0.2 3.2 0.2 3.2 0.1 3.2 0.3 3.2 0.5 3.2 0.2 3.2 0 3.2 0.1 3.2 0.2 3.2 0.3 3.2 0.4 3.2 0.4 3.2 0.2 3.2 0.3 3.2 0.5 3.2 0.5 3.2 0.4 3.2 0.2 3.2 0.1 3.2 0 3.2-0.1 3.2 0.1 3.2 0.2 3.2 0.4 3.2 0.5 3.2 0.7 3.2 0.6 3.2 0.5 3.2 0.5 3.2 0.4 3.2 0.2 3.2 0.2 3.2 0.1 3.2 0.1 3.2 0.1 3.2 0.2 3.2 0.2 3.2 0 3.2-0.1 3.2-0.1 3.2 0.3 3.2 0.5 3.2 0.8 3.2 0.7 3.2 0.6 3.2 0.2 3.2-0.1 3.2-0.1 3.2 0.2 3.2 0.4 3.2 0.3 3.2 0.4 3.2 0.2 3.2 0.3 3.2 0.4 3.2 0.5 3.2 0.4 3.2 0.2 3.2 0 3.2 0.3 3.2 0.4 3.2 0.5 3.2 0.2 3.2-0.1 3.2-0.1 3.2 0 3.2 0.2 3.2 0.5 3.2 0.6 3.2 0.8 3.2 0.5 3.2 0.3 3.2 0.3 3.2 0.1 3.2 0 3.2 0.2 3.2 0.3 3.2 0.2 3.2-0.1 3.2-0.1 3.2 0.2 3.2 0.4 3.2 0.5 3.2 0.3 3.2 0.1 3.2-0.2 3.2-0.1 3.2 0.2 3.2 0.5 3.2 0.4 3.2 0.2 3.2 0.3 3.2 0.3 3.2 0.2 3.2-0.2 3.2 0 3.2 0.3 3.2 0.3 3.2 0.1 3.2 0.1 3.2 0.2 3.2 0.3 3.2 0.4 3.2 0.6 3.2 0.6 3.2 0.4 3.2 0.3 3.2 0.2 3.2 0.2 3.2 0.3 3.2 0.4 3.2 0.5 3.2 0.3 3.2 0.1 3.2 0.1 3.2 0.1 3.2 0.3 3.2 0.3 3.2 0.4 3.2 0.2 3.2 0.1 3.2 0.1 3.2 0.5 3.2 0.6 3.2 0.4 3.2 0.1 3.2-0.1 3.2 0 3.2 0 3.2 0.1 3.2 0.1 3.2 0.1 3.2 0.2 3.2 0.1 3.2 0.1 3.2 0 3.2 0.1 3.2 0.1 3.2 0.1 3.2 0.3 3.2 0.2 3.2-0.1 3.2-0.3 3.2 0 3.2 0.3 3.2 0.4 3.2 0.2 3.2 0.1 3.2 0.1 3.2 0.3 3.2 0.3 3.2 0.2 3.2-0.1 3.2-0.4 3.2-0.2 3.2 0 3.2 0.2 3.2 0.2 3.2 0.2 3.2 0.2 3.2 0.3 3.2 0.4 3.2 0.5 3.2 0.4 3.2 0.2 3.2 0.2 3.2 0.3 3.2 0.3 3.2 0.2 3.2 0 3.2 0.3 3.2 0.5 3.2 0.2 3.2-0.1 3.2 0.1 3.2 0.3 3.2 0.6 3.2 0.4 3.2 0 3.2-0.2 3.2-0.2 3.2-0.2 3.2-0.1 3.2 0 3.2 0 3.2 0.1 3.2 0.1 3.2 0.3 3.2 0.3 3.2 0.4 3.2 0.2 3.2 0.2 3.2 0.3 3.2 0.1 3.2 0.1 3.2 0.2 3.2 0.3 3.2 0.4 3.2 0.2 3.2 0.2 0.5 0.1 1 0 0 47.4 -860.1 0z" fill="#ffdb6e"/>
<path d="M75.6 326.5l1 0 3.2 0.5 3.2 0.3 3.2 0.4 3.2 0.2 3.2 0.3 3.2 0.4 3.2 0.4 3.2 0.1 3.2 0 3.2 0.1 3.2 0.3 3.2 0.6 3.2 0.8 3.2 0.8 3.2 0.6 3.2 0.2 3.2 0.2 3.2 0.3 3.2 0.4 3.2 0.5 3.2 0 3.2-0.2 3.2-0.4 3.2 0.2 3.2 0.4 3.2 0.5 3.2 0.5 3.2 0.4 3.2 0.9 3.2 1.2 3.2 1.2 3.2 0.8 3.2 0.1 3.2 0.1 3.2 0.2 3.2 0.3 3.2 0.4 3.2 0.1 3.2 0.2 3.2 0.4 3.2 0.3 3.2 0.2 3.2 0.1 3.2 0.3 3.2 0.6 3.2 0.1 3.2 0.3 3.2 0.5 3.2 0.7 3.2 0.6 3.2 0.2 3.2 0.3 3.2 0.3 3.2 0.5 3.2 0.8 3.2 0.7 3.2 0.6 3.2 0.7 3.2 0.9 3.2 0.8 3.2 0.4 3.2 0.3 3.2 0.3 3.2 0.3 3.2 0.2 3.2 0 3.2 0.1 3.2 0.2 3.2 0.3 3.2-0.2 3.2-0.7 3.2 0 3.2 0.7 3.2 0.6 3.2 0.3 3.2 0.3 3.2 0.2 3.2 0.1 3.2 0.2 3.2 0.2 3.2 0 3.2 0.2 3.2 0.5 3.2 0.6 3.2 0.2 3.2-0.2 3.2 0 3.2 0.3 3.2 0.6 3.2 0.5 3.2 0.4 3.2 0.3 3.2 0.3 3.2 0.3 3.2 0.2 3.2 0.1 3.2 0.2 3.2 0.4 3.2 0.5 3.2 0.5 3.2 0.5 3.2 0.3 3.2 0.1 3.2 0.1 3.2 0 3.2 0 3.2 0.1 3.2 0.2 3.2 0 3.2 0 3.2 0.3 3.2 0.6 3.2 0.8 3.2 0.7 3.2 0.4 3.2 0 3.2-0.3 3.2-0.3 3.2 0.2 3.2 0.4 3.2 0.4 3.2 0.7 3.2 0.6 3.2 0.4 3.2 0.2 3.2 0.4 3.2 0.3 3.2 0 3.2-0.2 3.2-0.1 3.2 0.3 3.2 0.5 3.2 0.4 3.2 0.3 3.2 0.5 3.2 0.5 3.2 0.3 3.2 0.1 3.2 0.2 3.2 0.5 3.2 0.7 3.2 0.5 3.2 0.4 3.2 0.4 3.2 0.3 3.2 0.1 3.2-0.1 3.2 0 3.2 0.1 3.2 0.1 3.2-0.2 3.2-0.2 3.2 0.1 3.2 0.3 3.2 0.5 3.2 0.4 3.2 0.2 3.2 0.1 3.2 0.3 3.2 0.6 3.2 0.4 3.2 0.1 3.2-0.2 3.2 0 3.2 0.1 3.2 0.4 3.2 0.3 3.2 0.2 3.2 0.1 3.2 0.2 3.2 0.4 3.2 0.4 3.2 0.3 3.2 0.2 3.2 0.2 3.2 0.1 3.2 0.3 3.2 0.3 3.2 0.3 3.2 0.1 3.2 0.1 3.2 0 3.2 0.2 3.2 0.5 3.2 0.4 3.2 0.5 3.2 0.3 3.2 0.3 3.2 0.3 3.2 0.4 3.2 0.3 3.2 0.1 3.2 0.1 3.2 0.3 3.2 0.1 3.2 0 3.2-0.2 3.2 0.1 3.2 0.2 3.2 0.2 3.2 0.1 3.2 0 3.2 0.2 3.2 0.4 3.2 0.3 3.2 0.1 3.2-0.1 3.2 0.1 3.2 0.1 3.2 0 3.2-0.1 3.2-0.1 3.2 0 3.2 0 3.2 0.2 3.2 0.3 3.2 0.4 3.2 0 3.2 0 3.2 0.1 3.2 0.2 3.2 0 3.2-0.2 3.2-0.1 3.2-0.1 3.2 0.1 3.2 0.3 3.2 0.3 3.2 0.3 3.2 0.4 3.2 0.3 3.2 0.4 3.2 0.6 3.2 0.6 3.2 0.5 3.2 0.1 3.2 0 3.2 0.3 3.2 0.4 3.2 0.3 3.2 0.1 3.2 0.2 3.2 0.1 3.2 0.1 3.2 0 3.2 0 3.2 0.1 3.2 0.1 3.2 0.4 3.2 0.4 3.2 0 3.2-0.4 3.2-0.3 3.2-0.1 3.2 0 3.2 0 3.2 0.1 3.2 0.1 3.2 0 3.2 0.1 3.2 0.2 3.2 0 3.2 0.1 3.2 0 3.2 0.2 3.2 0.2 3.2 0.1 3.2 0.2 0.5 0.1 1 0 0 47.4 -860.1 0z" fill="#ffc000"/>
<path d="M75.6 335.8l1 0 3.2 0.2 3.2 0.3 3.2 0.5 3.2 0.5 3.2 0.3 3.2 0.3 3.2 0.5 3.2 0.4 3.2 0.1 3.2 0 3.2 0.1 3.2 0.5 3.2 0.7 3.2 0.7 3.2 0.6 3.2 0.6 3.2 0.6 3.2 0.4 3.2 0.5 3.2 0.9 3.2 1.2 3.2 0.9 3.2 0.3 3.2-0.2 3.2 0.1 3.2 0.4 3.2 0.5 3.2 0.5 3.2 0.2 3.2-0.4 3.2-0.7 3.2-0.1 3.2 0.4 3.2 0.4 3.2 0.5 3.2 0.5 3.2 0.9 3.2 1 3.2 0.4 3.2 0.1 3.2 0.6 3.2 0.7 3.2 0.4 3.2 0.1 3.2 0 3.2 0.7 3.2 0.5 3.2 0.1 3.2 0.3 3.2 0.4 3.2 0.6 3.2 0.4 3.2 0.4 3.2 0.8 3.2 0.6 3.2 0.5 3.2 0.3 3.2 0.4 3.2 0.5 3.2 0.2 3.2 0.1 3.2 0.2 3.2 0.2 3.2 0.1 3.2-0.3 3.2-0.1 3.2 0.2 3.2 0.4 3.2 0.5 3.2 0.3 3.2 0.4 3.2 0.2 3.2 0.1 3.2 0.1 3.2 0.4 3.2 0.5 3.2 0.4 3.2 0.3 3.2 0.2 3.2 0.2 3.2 0.3 3.2 0.3 3.2 0.2 3.2 0.3 3.2 0.2 3.2 0.3 3.2 0.4 3.2 0.4 3.2 0.2 3.2 0.1 3.2 0.1 3.2 0.2 3.2 0.3 3.2 0.4 3.2 0.3 3.2 0.3 3.2 0.2 3.2 0.2 3.2 0.2 3.2 0.4 3.2 0.2 3.2 0.1 3.2 0 3.2 0.1 3.2 0.2 3.2 0.1 3.2 0.3 3.2 0.4 3.2 0.2 3.2 0.2 3.2 0.1 3.2 0.3 3.2 0.4 3.2 0.5 3.2 0.5 3.2 0.1 3.2 0 3.2 0.1 3.2 0.3 3.2 0.4 3.2 0.4 3.2 0.4 3.2 0.4 3.2 0.3 3.2 0.3 3.2 0.2 3.2 0 3.2 0.1 3.2 0.1 3.2 0.1 3.2 0.3 3.2 0.2 3.2 0.1 3.2 0.1 3.2 0.2 3.2 0.4 3.2 0.3 3.2 0.3 3.2 0.3 3.2 0.5 3.2 0.7 3.2 0.5 3.2 0.2 3.2 0.1 3.2 0.1 3.2 0.1 3.2 0 3.2 0.1 3.2 0.3 3.2 0.3 3.2 0.1 3.2 0 3.2 0.1 3.2 0.3 3.2 0.3 3.2 0.1 3.2 0.1 3.2 0.1 3.2 0.3 3.2 0.2 3.2 0.3 3.2 0.2 3.2 0.3 3.2 0.3 3.2 0.3 3.2 0 3.2 0.1 3.2 0.3 3.2 0.5 3.2 0.2 3.2 0.1 3.2 0 3.2 0.1 3.2 0.2 3.2 0.3 3.2 0.4 3.2 0.3 3.2 0.3 3.2 0.3 3.2 0.3 3.2 0.2 3.2 0.2 3.2 0.3 3.2 0.3 3.2 0 3.2 0 3.2 0 3.2 0.4 3.2 0.6 3.2 0.5 3.2 0.4 3.2 0.3 3.2 0.1 3.2 0.2 3.2-0.1 3.2 0 3.2 0.2 3.2 0.2 3.2 0.3 3.2 0.3 3.2 0.5 3.2 0.3 3.2 0.3 3.2 0.1 3.2 0 3.2-0.1 3.2-0.1 3.2 0.1 3.2 0.1 3.2 0 3.2 0.1 3.2 0.2 3.2 0.3 3.2-0.1 3.2-0.1 3.2 0.1 3.2 0.3 3.2 0.4 3.2 0.4 3.2 0.1 3.2-0.1 3.2-0.2 3.2-0.1 3.2 0.1 3.2 0.2 3.2 0.4 3.2 0.3 3.2 0.1 3.2-0.1 3.2 0 3.2 0.3 3.2 0.3 3.2 0.4 3.2 0.3 3.2 0.4 3.2 0.1 3.2-0.1 3.2-0.1 3.2 0.1 3.2 0.2 3.2 0.2 3.2 0 3.2 0.2 3.2 0.3 3.2 0.1 3.2-0.2 3.2-0.2 3.2 0.2 3.2 0.3 3.2 0.3 3.2 0.1 3.2 0 3.2 0.1 3.2 0.2 3.2 0.1 3.2 0.1 3.2 0 3.2 0.1 3.2 0.1 3.2 0.1 3.2 0 3.2 0.2 3.2 0.4 3.2 0.6 3.2 0.3 3.2 0 3.2 0.2 3.2 0.4 0.5 0.1 1 0 0 38 -860.1 0z" fill="#ffffff"/>
<path d="M75.6 338.6l1 0 3.2 0.5 3.2 0.1 3.2 0.4 3.2 0.5 3.2 0.5 3.2 0.2 3.2 0.2 3.2 0.1 3.2-0.1 3.2 0 3.2 0.2 3.2 0.4 3.2 0.8 3.2 0.7 3.2 0.7 3.2 0.2 3.2 0.2 3.2 0.4 3.2 0.6 3.2 0.8 3.2 1 3.2 0.9 3.2 0.4 3.2 0 3.2 0.2 3.2 0.4 3.2 0.3 3.2 0.1 3.2 0 3.2-0.3 3.2-0.4 3.2-0.1 3.2 0.1 3.2 0.3 3.2 0.5 3.2 0.5 3.2 0.8 3.2 0.8 3.2 0.3 3.2 0.1 3.2 0.4 3.2 0.7 3.2 0.3 3.2 0.1 3.2-0.1 3.2 0.7 3.2 0.4 3.2 0.1 3.2 0.3 3.2 0.4 3.2 0.6 3.2 0.4 3.2 0.4 3.2 0.8 3.2 0.6 3.2 0.5 3.2 0.3 3.2 0.4 3.2 0.5 3.2 0.2 3.2 0.1 3.2 0.2 3.2 0.2 3.2 0.1 3.2-0.3 3.2-0.1 3.2 0.2 3.2 0.4 3.2 0.5 3.2 0.3 3.2 0.4 3.2 0.2 3.2 0.1 3.2 0.1 3.2 0.4 3.2 0.5 3.2 0.4 3.2 0.3 3.2 0.2 3.2 0.2 3.2 0.3 3.2 0.3 3.2 0.2 3.2 0.3 3.2 0.2 3.2 0.3 3.2 0.4 3.2 0.4 3.2 0.2 3.2 0.1 3.2 0.1 3.2 0.2 3.2 0.3 3.2 0.4 3.2 0.3 3.2 0.3 3.2 0.2 3.2 0.2 3.2 0.4 3.2 0.5 3.2 0.4 3.2 0.3 3.2 0.2 3.2 0.2 3.2 0.2 3.2 0.2 3.2 0.3 3.2 0.4 3.2 0.4 3.2 0.2 3.2 0 3.2 0.1 3.2 0.5 3.2 0.5 3.2 0.6 3.2 0.3 3.2 0.1 3.2-0.1 3.2 0.4 3.2 0.6 3.2 0.5 3.2 0.3 3.2 0.2 3.2 0.4 3.2 0.2 3.2 0.1 3.2 0.1 3.2 0.1 3.2 0.1 3.2 0 3.2 0.1 3.2 0.3 3.2 0.4 3.2 0.3 3.2 0.3 3.2 0.4 3.2 0.3 3.2 0.3 3.2 0.3 3.2 0.4 3.2 0.6 3.2 0.4 3.2 0.1 3.2 0 3.2-0.1 3.2 0.1 3.2 0.2 3.2 0.2 3.2 0.3 3.2 0.3 3.2 0.3 3.2 0 3.2-0.2 3.2-0.2 3.2 0.2 3.2 0.4 3.2 0.6 3.2 0.3 3.2 0.2 3.2 0 3.2 0.2 3.2 0.2 3.2 0.4 3.2 0.3 3.2 0.3 3.2 0.2 3.2 0.2 3.2 0.3 3.2 0.2 3.2 0.1 3.2-0.1 3.2-0.1 3.2 0.3 3.2 0.4 3.2 0.4 3.2 0.4 3.2 0.4 3.2 0.3 3.2 0.3 3.2 0.5 3.2 0.3 3.2 0 3.2 0 3.2 0 3.2 0.1 3.2 0.1 3.2 0.3 3.2 0.4 3.2 0.5 3.2 0.5 3.2 0.3 3.2 0.2 3.2 0.3 3.2 0.2 3.2-0.1 3.2-0.2 3.2 0 3.2 0.2 3.2 0.3 3.2 0.3 3.2 0.3 3.2 0.2 3.2 0.3 3.2 0.3 3.2 0.2 3.2 0.1 3.2 0 3.2 0.1 3.2 0 3.2-0.1 3.2-0.1 3.2 0.2 3.2 0.2 3.2 0.1 3.2 0.2 3.2 0.2 3.2 0.3 3.2 0.3 3.2 0.2 3.2 0.3 3.2 0 3.2-0.1 3.2-0.1 3.2-0.2 3.2-0.1 3.2 0.2 3.2 0.4 3.2 0.3 3.2-0.1 3.2-0.1 3.2 0.1 3.2 0.3 3.2 0.3 3.2 0.2 3.2 0.2 3.2 0 3.2-0.1 3.2 0 3.2 0 3.2 0.2 3.2 0.2 3.2-0.1 3.2 0.1 3.2 0.1 3.2 0.1 3.2-0.2 3.2-0.2 3.2 0.2 3.2 0.3 3.2 0.3 3.2 0.1 3.2 0 3.2 0.1 3.2 0.2 3.2 0.1 3.2 0.1 3.2 0 3.2 0.1 3.2 0.1 3.2 0.1 3.2 0 3.2 0.2 3.2 0.4 3.2 0.6 3.2 0.3 3.2 0 3.2 0.2 3.2 0.4 0.5 0.1 1 0 0 38 -860.1 0z" fill="url(#gO2)"/>
<path d="M75.6 344.2l1 0 3.2 0.2 3.2 0 3.2 0.2 3.2 0.5 3.2 0.5 3.2 0.4 3.2 0.5 3.2 0.4 3.2 0.4 3.2 0.5 3.2 0.4 3.2 0.4 3.2 0.4 3.2 0.7 3.2 0.8 3.2 0.5 3.2 0.3 3.2 0.5 3.2 0.5 3.2 0.2 3.2 0.2 3.2 0.4 3.2 0.8 3.2 0.7 3.2 0.6 3.2 0.4 3.2 0.2 3.2 0.2 3.2 0 3.2-0.5 3.2-0.4 3.2 0 3.2 0.4 3.2 0.5 3.2 0.4 3.2 0.6 3.2 0.8 3.2 0.5 3.2 0.3 3.2 0.5 3.2 0.7 3.2 0.7 3.2 0.3 3.2 0 3.2-0.1 3.2 0.3 3.2 0.7 3.2 0.6 3.2 0.1 3.2 0.1 3.2 0.3 3.2 0.4 3.2 0.3 3.2 0.2 3.2 0.3 3.2 0.4 3.2 0.6 3.2 0.5 3.2 0.6 3.2 0.3 3.2 0.2 3.2 0.3 3.2 0.2 3.2 0.1 3.2 0.1 3.2 0.2 3.2 0.3 3.2 0.1 3.2 0.2 3.2 0.4 3.2 0.4 3.2 0.2 3.2 0 3.2 0.1 3.2 0.2 3.2 0.2 3.2 0.3 3.2 0.7 3.2 0.6 3.2 0.4 3.2 0 3.2 0 3.2 0.2 3.2 0.4 3.2 0.5 3.2 0.4 3.2 0.4 3.2 0.5 3.2 0.2 3.2 0 3.2-0.2 3.2-0.1 3.2 0.3 3.2 0.5 3.2 0.6 3.2 0.5 3.2 0.2 3.2 0.1 3.2 0.3 3.2 0.5 3.2 0.6 3.2 0.4 3.2 0.2 3.2 0 3.2 0 3.2 0.2 3.2 0.1 3.2 0.2 3.2 0.1 3.2 0.2 3.2 0.6 3.2 0.6 3.2 0.3 3.2 0 3.2 0 3.2 0.2 3.2 0.5 3.2 0.3 3.2 0.2 3.2 0.3 3.2 0.5 3.2 0.6 3.2 0.6 3.2 0.5 3.2 0.1 3.2-0.1 3.2-0.2 3.2 0.1 3.2 0.1 3.2 0.2 3.2 0.1 3.2-0.2 3.2 0.1 3.2 0.4 3.2 0.5 3.2 0.3 3.2 0.2 3.2 0.1 3.2-0.1 3.2 0.1 3.2 0.4 3.2 0.5 3.2 0.5 3.2 0.5 3.2 0.4 3.2 0.2 3.2-0.1 3.2 0 3.2 0.3 3.2 0.4 3.2 0.3 3.2 0.1 3.2-0.1 3.2 0.1 3.2 0 3.2 0.1 3.2 0.2 3.2 0.5 3.2 0.4 3.2 0.3 3.2 0.1 3.2 0.2 3.2 0.1 3.2 0 3.2 0 3.2 0 3.2 0.3 3.2 0.5 3.2 0.2 3.2 0.1 3.2-0.1 3.2 0.2 3.2 0.4 3.2 0.5 3.2 0.5 3.2 0.3 3.2 0.2 3.2 0.1 3.2 0.2 3.2 0.2 3.2 0.1 3.2 0 3.2 0.3 3.2 0.4 3.2 0.3 3.2 0.1 3.2 0.2 3.2 0.5 3.2 0.6 3.2 0.3 3.2 0.1 3.2 0.1 3.2 0 3.2 0 3.2 0.1 3.2 0.4 3.2 0.4 3.2 0.2 3.2 0 3.2 0.1 3.2 0.2 3.2 0.2 3.2 0.3 3.2 0.3 3.2 0.3 3.2 0.3 3.2 0.1 3.2 0.1 3.2-0.1 3.2 0 3.2 0 3.2-0.2 3.2-0.2 3.2 0 3.2 0.4 3.2 0.7 3.2 0.7 3.2 0.3 3.2 0.1 3.2-0.1 3.2 0 3.2 0 3.2-0.1 3.2 0.1 3.2 0.3 3.2 0.3 3.2-0.1 3.2-0.3 3.2-0.2 3.2-0.1 3.2 0 3.2-0.1 3.2 0.1 3.2 0.3 3.2 0.1 3.2-0.1 3.2-0.1 3.2 0 3.2 0.2 3.2 0.3 3.2 0.1 3.2-0.3 3.2-0.2 3.2-0.1 3.2 0 3.2 0 3.2-0.1 3.2 0 3.2 0 3.2 0 3.2 0 3.2-0.1 3.2 0 3.2 0 3.2 0.2 3.2 0.3 3.2 0.4 3.2 0.3 3.2-0.1 3.2-0.2 3.2-0.1 3.2 0.2 3.2 0.2 3.2 0.1 3.2 0.2 3.2 0.3 3.2 0.4 3.2 0.4 0.5 0.1 1 0 0 35 -860.1 0z" fill="#ffffff"/>
<path d="M75.6 346.4l1 0 3.2 0.7 3.2 0.5 3.2 0.1 3.2 0 3.2 0 3.2 0.2 3.2 0.1 3.2 0.1 3.2 0.3 3.2 0.2 3.2 0.2 3.2 0.2 3.2 0.4 3.2 0.5 3.2 0.6 3.2 0.5 3.2 0.3 3.2 0.5 3.2 0.5 3.2 0.2 3.2 0.2 3.2 0.4 3.2 0.8 3.2 0.7 3.2 0.6 3.2 0.4 3.2 0.2 3.2 0.2 3.2 0 3.2-0.5 3.2-0.4 3.2 0 3.2 0.4 3.2 0.5 3.2 0.4 3.2 0.6 3.2 0.8 3.2 0.5 3.2 0.3 3.2 0.5 3.2 0.7 3.2 0.7 3.2 0.3 3.2 0 3.2-0.1 3.2 0.3 3.2 0.7 3.2 0.6 3.2 0.1 3.2 0.1 3.2 0.3 3.2 0.4 3.2 0.3 3.2 0.2 3.2 0.3 3.2 0.4 3.2 0.6 3.2 0.5 3.2 0.6 3.2 0.3 3.2 0.2 3.2 0.3 3.2 0.2 3.2 0.1 3.2 0.1 3.2 0.2 3.2 0.3 3.2 0.1 3.2 0.2 3.2 0.4 3.2 0.4 3.2 0.2 3.2 0 3.2 0.1 3.2 0.2 3.2 0.2 3.2 0.3 3.2 0.7 3.2 0.6 3.2 0.4 3.2 0 3.2 0 3.2 0.2 3.2 0.4 3.2 0.5 3.2 0.4 3.2 0.4 3.2 0.5 3.2 0.2 3.2 0 3.2-0.2 3.2-0.1 3.2 0.3 3.2 0.5 3.2 0.6 3.2 0.5 3.2 0.2 3.2 0.1 3.2 0.3 3.2 0.5 3.2 0.6 3.2 0.4 3.2 0.2 3.2 0 3.2 0 3.2 0.2 3.2 0.1 3.2 0.2 3.2 0.1 3.2 0.2 3.2 0.6 3.2 0.6 3.2 0.3 3.2 0 3.2 0 3.2 0.2 3.2 0.5 3.2 0.3 3.2 0.2 3.2 0.3 3.2 0.5 3.2 0.6 3.2 0.6 3.2 0.5 3.2 0.1 3.2-0.1 3.2-0.2 3.2 0.1 3.2 0.1 3.2 0.2 3.2 0.1 3.2-0.2 3.2 0.1 3.2 0.4 3.2 0.5 3.2 0.3 3.2 0.2 3.2 0.1 3.2-0.1 3.2 0.1 3.2 0.4 3.2 0.5 3.2 0.5 3.2 0.5 3.2 0.4 3.2 0.2 3.2-0.1 3.2 0 3.2 0.3 3.2 0.4 3.2 0.3 3.2 0.1 3.2-0.1 3.2 0.1 3.2 0 3.2 0.1 3.2 0.2 3.2 0.5 3.2 0.4 3.2 0.3 3.2 0.1 3.2 0.2 3.2 0.1 3.2 0 3.2 0 3.2 0 3.2 0.3 3.2 0.5 3.2 0.2 3.2 0.1 3.2-0.1 3.2 0.2 3.2 0.4 3.2 0.5 3.2 0.5 3.2 0.3 3.2 0.2 3.2 0.1 3.2 0.2 3.2 0.2 3.2 0.1 3.2 0 3.2 0.3 3.2 0.4 3.2 0.3 3.2 0.1 3.2 0.2 3.2 0.5 3.2 0.6 3.2 0.3 3.2 0.1 3.2 0.1 3.2 0 3.2 0 3.2 0.1 3.2 0.4 3.2 0.4 3.2 0.2 3.2 0 3.2 0.1 3.2 0.2 3.2 0.2 3.2 0.3 3.2 0.3 3.2 0.3 3.2 0.3 3.2 0.1 3.2 0.1 3.2-0.1 3.2 0 3.2 0 3.2-0.2 3.2-0.2 3.2 0 3.2 0.4 3.2 0.7 3.2 0.7 3.2 0.3 3.2 0.1 3.2-0.1 3.2 0 3.2 0 3.2-0.1 3.2 0.1 3.2 0.3 3.2 0.3 3.2-0.1 3.2-0.3 3.2-0.2 3.2-0.1 3.2 0 3.2-0.1 3.2 0.1 3.2 0.3 3.2 0.1 3.2-0.1 3.2-0.1 3.2 0 3.2 0.2 3.2 0.3 3.2 0.1 3.2-0.3 3.2-0.2 3.2-0.1 3.2 0 3.2 0 3.2-0.1 3.2 0 3.2 0 3.2 0 3.2 0 3.2-0.1 3.2 0 3.2 0 3.2 0.2 3.2 0.3 3.2 0.4 3.2 0.3 3.2-0.1 3.2-0.2 3.2-0.1 3.2 0.2 3.2 0.2 3.2 0.1 3.2 0.2 3.2 0.3 3.2 0.4 3.2 0.4 0.5 0.1 1 0 0 35 -860.1 0z" fill="url(#gO3)"/>
<path d="M75.6 351.4l1 0 3.2 0.4 3.2 0.6 3.2 0.6 3.2 0.4 3.2 0.3 3.2 0.4 3.2 0.3 3.2 0 3.2-0.2 3.2 0 3.2 0.3 3.2 0.5 3.2 0.4 3.2 0.3 3.2 0.2 3.2 0.3 3.2 0.8 3.2 1 3.2 0.5 3.2 0 3.2 0 3.2 0.2 3.2 0.6 3.2 0.4 3.2 0.6 3.2 0.6 3.2 0.5 3.2 0.3 3.2 0.1 3.2-0.3 3.2-0.2 3.2 0 3.2 0.3 3.2 0.5 3.2 0.6 3.2 0.6 3.2 0.7 3.2 0.6 3.2 0.6 3.2 0.4 3.2 0.2 3.2 0.3 3.2 0.3 3.2 0.1 3.2-0.1 3.2 0 3.2 0.5 3.2 0.6 3.2 0.5 3.2 0.4 3.2 0.5 3.2 0.3 3.2 0.2 3.2 0 3.2-0.1 3.2 0.3 3.2 0.6 3.2 0.5 3.2 0.2 3.2 0.1 3.2 0.2 3.2 0.1 3.2 0 3.2 0.3 3.2 0.4 3.2 0.5 3.2 0.4 3.2 0.3 3.2 0.2 3.2 0.1 3.2 0.3 3.2 0.3 3.2 0.5 3.2 0.6 3.2 0.7 3.2 0.5 3.2 0.3 3.2 0 3.2 0.2 3.2 0.5 3.2 0.5 3.2 0.3 3.2 0.2 3.2 0.3 3.2 0 3.2-0.1 3.2 0.2 3.2 0.3 3.2 0.2 3.2 0.1 3.2 0.2 3.2 0.2 3.2 0.3 3.2 0.5 3.2 0.5 3.2 0.5 3.2 0.1 3.2 0 3.2 0.2 3.2 0.5 3.2 0.6 3.2 0.5 3.2 0.2 3.2 0 3.2 0 3.2 0.1 3.2 0.1 3.2 0.1 3.2 0.2 3.2 0.5 3.2 0.5 3.2 0.2 3.2 0 3.2 0.2 3.2 0.5 3.2 0.4 3.2 0.3 3.2 0 3.2-0.2 3.2 0.1 3.2 0.5 3.2 0.7 3.2 0.3 3.2 0.1 3.2 0.2 3.2 0.4 3.2 0.1 3.2-0.2 3.2-0.1 3.2 0.3 3.2 0.4 3.2 0.4 3.2 0.2 3.2 0.1 3.2 0.1 3.2-0.1 3.2 0.2 3.2 0.5 3.2 0.7 3.2 0.3 3.2 0 3.2 0.2 3.2 0.7 3.2 0.6 3.2 0.4 3.2 0.2 3.2 0 3.2 0.1 3.2 0 3.2 0.1 3.2 0.2 3.2 0.1 3.2 0 3.2-0.2 3.2 0 3.2 0.4 3.2 0.6 3.2 0.4 3.2 0.1 3.2 0 3.2 0 3.2 0.1 3.2 0.2 3.2 0.5 3.2 0.2 3.2 0.2 3.2 0.3 3.2 0.5 3.2 0.3 3.2-0.2 3.2-0.3 3.2 0 3.2 0.3 3.2 0.2 3.2 0.2 3.2 0.2 3.2 0.3 3.2 0.5 3.2 0.4 3.2 0.4 3.2 0.4 3.2 0.3 3.2 0 3.2 0.1 3.2 0.1 3.2 0 3.2-0.1 3.2 0.2 3.2 0.4 3.2 0.5 3.2 0.4 3.2 0.2 3.2 0.2 3.2 0.3 3.2 0.1 3.2-0.2 3.2-0.4 3.2-0.1 3.2 0.2 3.2 0.4 3.2 0.3 3.2 0.2 3.2 0.1 3.2 0.2 3.2 0 3.2 0 3.2 0 3.2 0 3.2 0.1 3.2-0.1 3.2-0.1 3.2 0 3.2 0.2 3.2 0.1 3.2 0 3.2 0.3 3.2 0.5 3.2 0.6 3.2 0.2 3.2-0.1 3.2-0.2 3.2-0.3 3.2-0.2 3.2 0 3.2 0.2 3.2 0.2 3.2 0 3.2 0 3.2 0.2 3.2 0.2 3.2 0 3.2-0.1 3.2 0 3.2 0.4 3.2 0.4 3.2 0 3.2-0.2 3.2 0 3.2 0.3 3.2 0.3 3.2 0 3.2 0.1 3.2 0.3 3.2 0.1 3.2-0.5 3.2-0.4 3.2-0.1 3.2 0.2 3.2-0.2 3.2-0.4 3.2-0.1 3.2 0.2 3.2 0.3 3.2 0.3 3.2 0.1 3.2-0.2 3.2-0.3 3.2-0.1 3.2 0.1 3.2 0.1 3.2 0 3.2 0.2 3.2 0.4 3.2 0.6 3.2 0.6 3.2 0.2 3.2-0.1 3.2 0.1 0.5 0 1 0 0 31.8 -860.1 0z" fill="#8e4411"/>
<path d="M75.6 351.4l1 0 3.2 0.4 3.2 0.6 3.2 0.6 3.2 0.4 3.2 0.3 3.2 0.4 3.2 0.3 3.2 0 3.2-0.1 3.2 0.3 3.2 0.4 3.2 0.7 3.2 0.5 3.2 0.4 3.2 0.4 3.2 0.4 3.2 0.6 3.2 0.6 3.2 0.5 3.2 0.5 3.2 0.7 3.2 0.7 3.2 0.8 3.2 0.8 3.2 0.7 3.2 0.3 3.2 0 3.2 0.2 3.2 0.2 3.2 0.2 3.2 0.1 3.2 0.3 3.2 0.3 3.2 0.6 3.2 0.9 3.2 0.8 3.2 0.3 3.2 0.1 3.2 0.4 3.2 0.7 3.2 0.7 3.2 0.4 3.2 0.2 3.2 0.1 3.2 0 3.2 0.3 3.2 0.4 3.2 0.3 3.2 0 3.2 0.1 3.2 0.5 3.2 0.5 3.2 0.4 3.2 0.1 3.2 0.1 3.2 0.3 3.2 0.5 3.2 0.6 3.2 0.3 3.2 0.1 3.2 0.2 3.2 0.3 3.2 0.2 3.2 0.1 3.2 0.2 3.2 0.5 3.2 0.5 3.2 0.3 3.2 0.1 3.2 0.3 3.2 0.4 3.2 0.2 3.2 0 3.2 0.1 3.2 0.4 3.2 0.4 3.2 0.7 3.2 0.6 3.2 0.3 3.2 0 3.2 0.3 3.2 0.5 3.2 0.4 3.2-0.1 3.2 0 3.2 0.1 3.2 0.3 3.2 0.4 3.2 0.4 3.2 0.2 3.2-0.1 3.2 0.2 3.2 0.5 3.2 0.5 3.2 0.3 3.2 0.2 3.2 0.5 3.2 0.3 3.2 0.2 3.2 0.1 3.2 0.2 3.2 0.4 3.2 0.2 3.2 0 3.2 0 3.2 0.3 3.2 0.5 3.2 0.3 3.2 0 3.2 0.2 3.2 0.2 3.2 0.3 3.2 0.4 3.2 0.6 3.2 0.6 3.2 0.3 3.2 0.1 3.2 0.2 3.2 0.5 3.2 0.5 3.2 0.2 3.2 0.1 3.2 0.1 3.2 0 3.2 0.1 3.2 0.5 3.2 0.6 3.2 0.2 3.2-0.1 3.2-0.1 3.2 0 3.2 0 3.2-0.1 3.2 0.1 3.2 0.2 3.2 0.3 3.2 0.3 3.2 0.5 3.2 0.5 3.2 0.4 3.2 0.3 3.2 0.4 3.2 0.5 3.2 0.5 3.2 0.4 3.2 0.3 3.2 0.1 3.2 0 3.2 0.1 3.2-0.1 3.2-0.1 3.2 0.1 3.2 0.2 3.2 0.2 3.2 0.2 3.2 0.2 3.2 0.4 3.2 0.5 3.2 0.4 3.2 0 3.2 0 3.2 0 3.2 0 3.2 0.1 3.2 0.1 3.2 0.3 3.2 0.2 3.2 0.4 3.2 0.3 3.2 0.3 3.2 0.1 3.2-0.1 3.2 0.2 3.2 0.4 3.2 0.3 3.2 0 3.2 0.1 3.2 0.2 3.2 0.3 3.2 0.4 3.2 0.4 3.2 0.2 3.2 0.3 3.2 0.2 3.2 0.2 3.2-0.1 3.2 0 3.2 0.1 3.2 0.5 3.2 0.6 3.2 0.4 3.2 0.1 3.2 0 3.2 0.2 3.2 0 3.2-0.1 3.2 0 3.2 0 3.2 0.1 3.2 0.1 3.2 0.4 3.2 0.3 3.2 0.2 3.2-0.1 3.2-0.1 3.2-0.1 3.2 0 3.2 0 3.2 0.1 3.2 0.3 3.2 0.2 3.2-0.1 3.2 0 3.2 0.1 3.2 0.3 3.2 0.3 3.2 0.1 3.2 0 3.2 0.2 3.2 0.3 3.2 0.5 3.2 0.3 3.2-0.1 3.2-0.2 3.2-0.1 3.2-0.1 3.2 0 3.2 0.1 3.2 0.3 3.2 0.2 3.2 0.3 3.2 0.3 3.2 0.3 3.2 0.1 3.2 0 3.2 0.2 3.2 0.4 3.2 0.2 3.2 0.1 3.2 0.1 3.2-0.1 3.2-0.3 3.2-0.2 3.2 0.2 3.2 0.4 3.2 0.5 3.2 0.3 3.2 0.1 3.2 0 3.2 0.2 3.2 0.3 3.2-0.1 3.2-0.2 3.2 0 3.2 0.2 3.2 0 3.2 0 3.2-0.2 3.2 0.1 3.2 0.3 3.2 0.4 3.2 0.2 3.2 0.3 3.2 0.6 3.2 0.5 3.2 0.4 3.2 0.1 3.2 0 0.5-0.3 1 0 0 24.4 -860.1 0z" fill="#bdd7ee"/>
<path d="M75.6 361.3l1 0 3.2 0.3 3.2 0.3 3.2 0.5 3.2 0.6 3.2 0.5 3.2 0.4 3.2 0.3 3.2 0.3 3.2 0.2 3.2 0.1 3.2 0.2 3.2 0.3 3.2 0.5 3.2 0.6 3.2 0.6 3.2 0.7 3.2 0.6 3.2 0.4 3.2 0.4 3.2 0.4 3.2 0.5 3.2 0.4 3.2 0.4 3.2 0.6 3.2 0.7 3.2 0.4 3.2 0.1 3.2 0 3.2 0.1 3.2 0.3 3.2 0.2 3.2 0.3 3.2 0.4 3.2 0.6 3.2 0.7 3.2 0.7 3.2 0.5 3.2 0.3 3.2 0.3 3.2 0.4 3.2 0.3 3.2 0.2 3.2 0.2 3.2 0.2 3.2 0.4 3.2 0.6 3.2 0.5 3.2 0.4 3.2 0.3 3.2 0.2 3.2 0.2 3.2 0.3 3.2 0.3 3.2 0.5 3.2 0.6 3.2 0.4 3.2 0.2 3.2 0.3 3.2 0.4 3.2 0.4 3.2 0.3 3.2 0.1 3.2 0.1 3.2 0.2 3.2 0.3 3.2 0.3 3.2 0.3 3.2 0.3 3.2 0.2 3.2 0 3.2 0.1 3.2 0.3 3.2 0.5 3.2 0.6 3.2 0.4 3.2 0.3 3.2 0.4 3.2 0.4 3.2 0.3 3.2 0 3.2 0 3.2 0.3 3.2 0.5 3.2 0.2 3.2 0 3.2 0 3.2 0.1 3.2 0.3 3.2 0.4 3.2 0.3 3.2 0.2 3.2 0.2 3.2 0.1 3.2 0.4 3.2 0.5 3.2 0.4 3.2 0.3 3.2 0 3.2 0.1 3.2 0.4 3.2 0.3 3.2 0.1 3.2 0.1 3.2 0.1 3.2 0.2 3.2 0.4 3.2 0.2 3.2 0.2 3.2 0 3.2 0.2 3.2 0.4 3.2 0.3 3.2 0.2 3.2 0.2 3.2 0.1 3.2 0 3.2 0 3.2 0.1 3.2 0 3.2 0.1 3.2 0.2 3.2 0.5 3.2 0.8 3.2 0.5 3.2 0.1 3.2-0.2 3.2 0 3.2 0.2 3.2 0.2 3.2 0.1 3.2-0.1 3.2 0.2 3.2 0.5 3.2 0.5 3.2 0.2 3.2 0.1 3.2 0.2 3.2 0.3 3.2 0.2 3.2 0.4 3.2 0.4 3.2 0.7 3.2 0.5 3.2 0.2 3.2 0 3.2 0 3.2 0.3 3.2 0.4 3.2 0.2 3.2 0.1 3.2 0 3.2 0 3.2 0 3.2 0 3.2 0.2 3.2 0.3 3.2 0.4 3.2 0.4 3.2 0.2 3.2 0.1 3.2 0.1 3.2 0.6 3.2 0.5 3.2 0 3.2-0.1 3.2 0.3 3.2 0.5 3.2 0.4 3.2 0.1 3.2-0.4 3.2-0.3 3.2 0 3.2 0.2 3.2 0 3.2 0 3.2 0.4 3.2 0.7 3.2 0.7 3.2 0.5 3.2 0.2 3.2-0.1 3.2 0 3.2 0.3 3.2 0.3 3.2 0.2 3.2 0.1 3.2 0.1 3.2 0.3 3.2 0.2 3.2 0 3.2 0.2 3.2 0.2 3.2 0.2 3.2 0.3 3.2 0.3 3.2 0.2 3.2 0.1 3.2-0.1 3.2 0.1 3.2-0.1 3.2 0 3.2 0.1 3.2 0.2 3.2 0.4 3.2 0.4 3.2 0.2 3.2-0.2 3.2-0.5 3.2-0.2 3.2 0.3 3.2 0.4 3.2 0 3.2-0.3 3.2 0 3.2 0.4 3.2 0.4 3.2 0.2 3.2 0.1 3.2 0.2 3.2 0.2 3.2 0.1 3.2-0.1 3.2 0.1 3.2 0.5 3.2 0.4 3.2 0 3.2-0.3 3.2-0.5 3.2-0.4 3.2 0.1 3.2 0.5 3.2 0.5 3.2 0.4 3.2 0.2 3.2 0.4 3.2 0.4 3.2 0.2 3.2 0 3.2 0 3.2 0 3.2 0.1 3.2 0.4 3.2 0.3 3.2 0 3.2-0.2 3.2 0.1 3.2 0.3 3.2 0.2 3.2 0 3.2-0.2 3.2 0.2 3.2 0.2 3.2 0.1 3.2 0.2 3.2 0.2 3.2 0.3 3.2-0.2 3.2-0.3 3.2 0 3.2 0.5 3.2 0.7 3.2 0.5 3.2 0.1 3.2 0.1 3.2 0 3.2 0.3 3.2 0.2 3.2 0.2 0.5-0.1 1 0 0 16.9 -860.1 0z" fill="#d9d9d9"/>
<path d="M76.6 312.8l3.2 0.4 3.2 0.5 3.2 0.6 3.2 0.5 3.2 0.2 3.2 0 3.2-0.1 3.2 0.1 3.2 0.2 3.2 0.2 3.2 0.3 3.2 0.3 3.2 0.3 3.2 0.4 3.2 0.6 3.2 0.6 3.2 0.4 3.2 0.3 3.2 0.4 3.2 0.6 3.2 0.1 3.2-0.1 3.2-0.1 3.2 0.4 3.2 0.4 3.2 0.3 3.2 0.3 3.2 0.3 3.2 0.6 3.2 0.8 3.2 0.7 3.2 0.4 3.2 0.1 3.2 0.5 3.2 0.7 3.2 0.5 3.2 0.3 3.2 0.1 3.2 0.1 3.2 0.2 3.2 0 3.2 0.3 3.2 0.3 3.2 0.4 3.2 0.5 3.2 0.2 3.2 0.3 3.2 0.4 3.2 0.2 3.2 0.2 3.2 0.2 3.2 0.5 3.2 0.5 3.2 0.3 3.2 0.4 3.2 0.6 3.2 0.5 3.2 0.6 3.2 0.5 3.2 0.5 3.2 0.5 3.2 0.5 3.2 0.3 3.2 0.2 3.2 0.3 3.2 0.3 3.2 0.4 3.2 0.5 3.2 0.5 3.2 0.3 3.2-0.1 3.2 0.1 3.2 0.5 3.2 0.5 3.2 0.5 3.2 0.5 3.2 0.4 3.2 0.3 3.2 0.3 3.2 0.1 3.2 0.1 3.2 0.3 3.2 0.3 3.2 0.2 3.2 0.1 3.2 0 3.2 0 3.2 0.2 3.2 0.4 3.2 0.4 3.2 0.3 3.2 0.2 3.2 0.3 3.2 0.4 3.2 0.2 3.2 0.2 3.2 0.1 3.2 0.1 3.2 0.2 3.2 0.3 3.2 0.3 3.2 0.2 3.2 0.1 3.2 0.1 3.2 0.2 3.2 0.2 3.2 0.1 3.2 0.1 3.2 0.2 3.2 0.2 3.2 0.4 3.2 0.3 3.2 0.3 3.2 0.4 3.2 0.2 3.2 0.1 3.2 0.1 3.2 0.2 3.2 0.3 3.2 0.4 3.2 0.4 3.2 0.6 3.2 0.6 3.2 0.3 3.2 0 3.2 0.1 3.2 0.1 3.2 0 3.2 0 3.2 0.1 3.2 0.4 3.2 0.3 3.2 0.2 3.2 0.2 3.2 0.4 3.2 0.4 3.2 0.3 3.2 0.4 3.2 0.5 3.2 0.5 3.2 0.5 3.2 0.4 3.2 0.3 3.2 0.3 3.2 0.2 3.2 0 3.2-0.1 3.2-0.1 3.2 0.2 3.2 0.3 3.2 0.3 3.2 0.3 3.2 0.1 3.2 0.1 3.2 0.1 3.2 0.2 3.2 0.3 3.2 0.3 3.2 0.4 3.2 0.2 3.2 0.2 3.2 0.1 3.2 0.2 3.2 0.1 3.2 0.2 3.2 0.1 3.2 0.2 3.2 0.4 3.2 0.4 3.2 0.3 3.2 0.1 3.2 0.1 3.2 0.3 3.2 0.4 3.2 0.4 3.2 0.3 3.2 0.1 3.2 0.1 3.2 0.1 3.2 0.2 3.2 0.4 3.2 0.5 3.2 0.4 3.2 0.2 3.2 0.2 3.2 0.1 3.2 0.2 3.2 0.3 3.2 0.4 3.2 0.5 3.2 0.6 3.2 0.5 3.2 0.3 3.2 0.3 3.2 0.2 3.2 0" fill="none" stroke="#1f3f66" stroke-width="1.9" stroke-dasharray="10 14 8 60 95 16 9 22 30 34 6 12 14 48 20 26"/>
<path d="M76.6 360.4l3.2 0.4 3.2 0.4 3.2 0.4 3.2 0.4 3.2 0.4 3.2 0.2 3.2 0.1 3.2 0.3 3.2 0.3 3.2 0.4 3.2 0.4 3.2 0.5 3.2 0.6 3.2 0.5 3.2 0.4 3.2 0.5 3.2 0.7 3.2 0.6 3.2 0.4 3.2 0.3 3.2 0.4 3.2 0.5 3.2 0.6 3.2 0.7 3.2 0.8 3.2 0.4 3.2 0.1 3.2 0 3.2 0.1 3.2 0.3 3.2 0.2 3.2 0.1 3.2 0.3 3.2 0.6 3.2 0.8 3.2 0.7 3.2 0.5 3.2 0.4 3.2 0.5 3.2 0.4 3.2 0.2 3.2 0.1 3.2 0 3.2 0.3 3.2 0.5 3.2 0.6 3.2 0.6 3.2 0.3 3.2 0.1 3.2 0.2 3.2 0.3 3.2 0.4 3.2 0.3 3.2 0.5 3.2 0.5 3.2 0.3 3.2 0.3 3.2 0.2 3.2 0.5 3.2 0.5 3.2 0.4 3.2 0.1 3.2 0.1 3.2 0.2 3.2 0.4 3.2 0.2 3.2 0.2 3.2 0.2 3.2 0.2 3.2 0.2 3.2 0.1 3.2 0.3 3.2 0.5 3.2 0.6 3.2 0.3 3.2 0.2 3.2 0.4 3.2 0.7 3.2 0.3 3.2-0.1 3.2-0.1 3.2 0.3 3.2 0.7 3.2 0.3 3.2 0 3.2-0.1 3.2 0 3.2 0.3 3.2 0.2 3.2 0.3 3.2 0.3 3.2 0.2 3.2 0.2 3.2 0.4 3.2 0.6 3.2 0.5 3.2 0.1 3.2 0 3.2 0 3.2 0.4 3.2 0.4 3.2 0.2 3.2 0 3.2 0.1 3.2 0.3 3.2 0.4 3.2 0.3 3.2 0.1 3.2 0 3.2 0.3 3.2 0.3 3.2 0.3 3.2 0.3 3.2 0.2 3.2 0.2 3.2 0.1" fill="none" stroke="#98583a" stroke-width="1.5" stroke-dasharray="9 4 5 16 12 7 3 22 8 30"/>
<path d="M76.6 334.1l3.2 0.5 3.2 0.2 3.2 0.1 3.2 0.3 3.2 0.1 3.2 0 3.2 0.4 3.2 0.5 3.2 0.3 3.2 0.4 3.2 0.4 3.2 0.6 3.2 0.6 3.2 0.5 3.2 0.7 3.2 0.7 3.2 0.7 3.2 0.5 3.2 0.3 3.2 0.2 3.2-0.5 3.2-0.3 3.2-0.4 3.2 0.1 3.2 0.1 3.2 0.2 3.2 0.3 3.2 0.1 3.2 0.6 3.2 1.5 3.2 1.6 3.2 1.2 3.2 0.3 3.2 0.4 3.2 0.2 3.2 0 3.2 0.3 3.2 0.5 3.2 1.1 3.2 1.5 3.2 1.1 3.2 0.7 3.2 0.4 3.2 0.1 3.2-0.2 3.2-0.9 3.2-0.5 3.2 0.1 3.2 0.6 3.2 1.1 3.2 1.1 3.2 1 3.2 0.7 3.2 0.2 3.2 0 3.2-0.4 3.2-0.4 3.2-0.1 3.2 0.6 3.2 1 3.2 0.9 3.2 0.6 3.2 0.3 3.2 0.1 3.2 0.2 3.2 0.1 3.2 0.1 3.2 0.4 3.2 0.9 3.2 0.8 3.2 0.4 3.2 0.2 3.2 0.1 3.2-0.5 3.2-0.6 3.2-0.1 3.2 0.2 3.2 0.6 3.2 0.7 3.2 0.7 3.2 0.5 3.2 0.1 3.2-0.1 3.2-0.1 3.2 0.2 3.2 0.4 3.2 0.5 3.2 0.5 3.2 0.4 3.2 0.3 3.2 0.3 3.2 0 3.2 0 3.2 0 3.2 0.4 3.2 0.5 3.2 0.3 3.2 0.3 3.2 0.2 3.2 0.3 3.2 0.3 3.2 0.1 3.2 0 3.2 0 3.2 0.1 3.2 0.3 3.2 0.4 3.2 0.4 3.2 0.2 3.2 0.2 3.2 0.2 3.2 0.2 3.2 0.3 3.2 0.3 3.2 0.1 3.2 0 3.2-0.1 3.2 0 3.2 0.4 3.2 0.5 3.2 0.7 3.2 0.8 3.2 0.7 3.2 0.3 3.2 0 3.2-0.1 3.2 0 3.2-0.1 3.2-0.1 3.2 0.2 3.2 0.4 3.2 0.2 3.2 0 3.2 0.1 3.2 0.5 3.2 0.4 3.2 0.3 3.2 0.4 3.2 0.5 3.2 0.8 3.2 0.6 3.2 0.4 3.2 0.1 3.2 0.2 3.2 0.3 3.2 0.2 3.2 0 3.2-0.2 3.2 0 3.2 0.3 3.2 0.1 3.2 0.1 3.2 0.2 3.2 0.3 3.2 0.2 3.2 0.1 3.2 0.2 3.2 0.5 3.2 0.3 3.2 0.1 3.2 0.1 3.2 0.2 3.2 0.5 3.2 0.3 3.2-0.1 3.2-0.3 3.2 0.1 3.2 0.5 3.2 0.7 3.2 0.5 3.2 0.2 3.2 0 3.2 0 3.2 0 3.2 0.3 3.2 0.3 3.2 0.3 3.2 0.4 3.2 0.5 3.2 0.3 3.2 0.1 3.2 0.2 3.2 0.2 3.2 0.4 3.2 0.1 3.2 0.1 3.2 0.2 3.2 0.3 3.2 0.4 3.2 0.5 3.2 0.4 3.2 0.4 3.2 0.2 3.2 0 3.2-0.2 3.2-0.1 3.2 0.1 3.2 0.1 3.2 0.2 3.2 0.4 3.2 0.3 3.2 0.3 3.2 0.3 3.2 0.5 3.2 0.4 3.2 0 3.2-0.2 3.2-0.1 3.2 0 3.2 0.1 3.2 0 3.2 0.1 3.2 0.1 3.2 0 3.2 0 3.2 0.2 3.2 0.2 3.2 0.2 3.2 0.2 3.2 0.1 3.2 0 3.2 0.1 3.2 0 3.2 0.1 3.2 0.3 3.2 0.5 3.2 0.4 3.2 0 3.2-0.3 3.2 0 3.2 0.3 3.2 0.7 3.2 0.6 3.2 0.5 3.2 0.3 3.2 0.1 3.2-0.2 3.2-0.1 3.2 0.2 3.2 0.4 3.2 0.3 3.2 0.1 3.2 0.2 3.2 0.3 3.2 0.1 3.2-0.2 3.2-0.2 3.2 0.2 3.2 0.3 3.2 0.3 3.2 0.1 3.2 0 3.2 0.1 3.2 0.2 3.2 0.1 3.2 0.1 3.2 0 3.2 0.1 3.2 0.1 3.2 0.1 3.2 0 3.2 0.2 3.2 0.4 3.2 0.6 3.2 0.3 3.2 0 3.2 0.2 3.2 0.4 0.5 0.1 0 0 -0.5-0.1 -3.2-0.4 -3.2-0.2 -3.2 0 -3.2-0.3 -3.2-0.6 -3.2-0.4 -3.2-0.2 -3.2 0 -3.2-0.1 -3.2-0.1 -3.2-0.1 -3.2 0 -3.2-0.1 -3.2-0.1 -3.2-0.2 -3.2-0.1 -3.2 0 -3.2-0.1 -3.2-0.3 -3.2-0.3 -3.2-0.2 -3.2 0.2 -3.2 0.2 -3.2-0.1 -3.2-0.3 -3.2-0.2 -3.2 0 -3.2-0.2 -3.2-0.2 -3.2-0.1 -3.2 0.1 -3.2 0.1 -3.2-0.1 -3.2-0.4 -3.2-0.3 -3.2-0.4 -3.2-0.3 -3.2-0.3 -3.2 0 -3.2 0.1 -3.2-0.1 -3.2-0.3 -3.2-0.4 -3.2-0.2 -3.2-0.1 -3.2 0.1 -3.2 0.2 -3.2 0.1 -3.2-0.1 -3.2-0.4 -3.2-0.4 -3.2-0.3 -3.2-0.1 -3.2 0.1 -3.2 0.1 -3.2-0.3 -3.2-0.2 -3.2-0.1 -3.2 0 -3.2-0.1 -3.2-0.1 -3.2 0.1 -3.2 0.1 -3.2 0 -3.2-0.1 -3.2-0.3 -3.2-0.3 -3.2-0.5 -3.2-0.3 -3.2-0.3 -3.2-0.2 -3.2-0.2 -3.2 0 -3.2 0.1 -3.2-0.2 -3.2-0.1 -3.2-0.3 -3.2-0.4 -3.2-0.5 -3.2-0.6 -3.2-0.4 -3.2 0 -3.2 0 -3.2 0 -3.2-0.3 -3.2-0.3 -3.2-0.2 -3.2-0.2 -3.2-0.3 -3.2-0.3 -3.2-0.3 -3.2-0.3 -3.2-0.4 -3.2-0.3 -3.2-0.2 -3.2-0.1 -3.2 0 -3.2-0.1 -3.2-0.2 -3.2-0.5 -3.2-0.3 -3.2-0.1 -3.2 0 -3.2-0.3 -3.2-0.3 -3.2-0.3 -3.2-0.2 -3.2-0.3 -3.2-0.2 -3.2-0.3 -3.2-0.1 -3.2-0.1 -3.2-0.1 -3.2-0.3 -3.2-0.3 -3.2-0.1 -3.2 0 -3.2-0.1 -3.2-0.3 -3.2-0.3 -3.2-0.1 -3.2 0 -3.2-0.1 -3.2-0.1 -3.2-0.1 -3.2-0.2 -3.2-0.5 -3.2-0.7 -3.2-0.5 -3.2-0.3 -3.2-0.3 -3.2-0.3 -3.2-0.4 -3.2-0.2 -3.2-0.1 -3.2-0.1 -3.2-0.2 -3.2-0.3 -3.2-0.1 -3.2-0.1 -3.2-0.1 -3.2 0 -3.2-0.2 -3.2-0.3 -3.2-0.3 -3.2-0.4 -3.2-0.4 -3.2-0.4 -3.2-0.4 -3.2-0.3 -3.2-0.1 -3.2 0 -3.2-0.1 -3.2-0.5 -3.2-0.5 -3.2-0.4 -3.2-0.3 -3.2-0.1 -3.2-0.2 -3.2-0.2 -3.2-0.4 -3.2-0.3 -3.2-0.1 -3.2-0.2 -3.2-0.1 -3.2 0 -3.2-0.1 -3.2-0.2 -3.2-0.4 -3.2-0.2 -3.2-0.2 -3.2-0.2 -3.2-0.3 -3.2-0.3 -3.2-0.4 -3.2-0.3 -3.2-0.2 -3.2-0.1 -3.2-0.1 -3.2-0.2 -3.2-0.4 -3.2-0.4 -3.2-0.3 -3.2-0.2 -3.2-0.3 -3.2-0.2 -3.2-0.3 -3.2-0.3 -3.2-0.2 -3.2-0.2 -3.2-0.3 -3.2-0.4 -3.2-0.5 -3.2-0.4 -3.2-0.1 -3.2-0.1 -3.2-0.2 -3.2-0.4 -3.2-0.3 -3.2-0.5 -3.2-0.4 -3.2-0.2 -3.2 0.1 -3.2 0.3 -3.2-0.1 -3.2-0.2 -3.2-0.2 -3.2-0.1 -3.2-0.2 -3.2-0.5 -3.2-0.4 -3.2-0.3 -3.2-0.5 -3.2-0.6 -3.2-0.8 -3.2-0.4 -3.2-0.4 -3.2-0.6 -3.2-0.4 -3.2-0.3 -3.2-0.1 -3.2-0.5 -3.2-0.7 -3.2 0 -3.2-0.1 -3.2-0.4 -3.2-0.7 -3.2-0.6 -3.2-0.1 -3.2-0.4 -3.2-1 -3.2-0.9 -3.2-0.5 -3.2-0.5 -3.2-0.4 -3.2-0.4 -3.2 0.1 -3.2 0.7 -3.2 0.4 -3.2-0.2 -3.2-0.5 -3.2-0.5 -3.2-0.4 -3.2-0.1 -3.2 0.2 -3.2-0.3 -3.2-0.9 -3.2-1.2 -3.2-0.9 -3.2-0.5 -3.2-0.4 -3.2-0.6 -3.2-0.6 -3.2-0.6 -3.2-0.7 -3.2-0.7 -3.2-0.5 -3.2-0.1 -3.2 0 -3.2-0.1 -3.2-0.4 -3.2-0.5 -3.2-0.3 -3.2-0.3 -3.2-0.5 -3.2-0.5 -3.2-0.3 -3.2-0.2z" fill="#2a4673"/>
<path d="M313.4 362l3.2-0.1 3.2 0.2 3.2 0.3 3.2 0.5 3.2 0.4 3.2 0.5 3.2 0.4 3.2 0.2 3.2 0 3.2 0.1 3.2 0.2 3.2 0.4 3.2 0.4 3.2 0.4 3.2 0.4 3.2 0.2 3.2 0.1 3.2 0.2 3.2 0.1 3.2 0.2 3.2 0.4 3.2 0.3 3.2 0.3 3.2 0.3 3.2 0.2 3.2 0.3 3.2 0.3 3.2 0 3.2 0 3.2 0.1 3.2 0.1 3.2 0.3 3.2 0.3 3.2 0.4 3.2 0.2 3.2 0.2 3.2 0.2 3.2 0.2 3.2 0.4 3.2 0.4 3.2 0.2 3.2 0.1 3.2-0.1 3.2 0.1 3.2 0.4 3.2 0.4 3.2 0.6 3.2 0.5 3.2 0.6 3.2 0.3 3.2 0.1 3.2 0.1 3.2 0 3.2 0 3.2 0 3.2 0.2 3.2 0.3 3.2 0.2 3.2 0.1 3.2 0.1 3.2 0.3 3.2 0.4 3.2 0.3 3.2 0.3 3.2 0.5 3.2 0.6 3.2 0.7 3.2 0.4 3.2 0.2 3.2 0.1 3.2 0.2 3.2 0.2 3.2 0 3.2-0.1 3.2 0.1 3.2 0.3 3.2 0.2 3.2 0 3.2 0.2 3.2 0.3 3.2 0.2 3.2 0.1 3.2 0.2 3.2 0.2 3.2 0.3 3.2 0.2 3.2 0.2 3.2 0.2 3.2 0.4 3.2 0.3 3.2 0.1 3.2-0.1 3.2 0 3.2 0.5 3.2 0.5 3.2 0.4 3.2 0.2 3.2 0 3.2 0 3.2 0.1 3.2 0.3 3.2 0.3 3.2 0.4 3.2 0.3 3.2 0.4 3.2 0.3 3.2 0.2 3.2 0.1 3.2 0.3 3.2 0.3 3.2 0.1 3.2 0.1 3.2 0.1 3.2 0.3 3.2 0.5 3.2 0.5 3.2 0.4 3.2 0.3 3.2 0.2 3.2 0.1 3.2-0.1 3.2-0.1 3.2 0.1 3.2 0.2 3.2 0.2 3.2 0.4 3.2 0.4 3.2 0.3 3.2 0.3 3.2 0.3 3.2 0.2 3.2 0 3.2-0.2 3.2 0 3.2 0.1 3.2 0 3.2 0 3.2 0.2 3.2 0.2 3.2 0 3.2-0.1 3.2 0.1 3.2 0.3 3.2 0.3 3.2 0.3 3.2 0.1 3.2 0 3.2-0.1 3.2 0 3.2 0 3.2 0.3 3.2 0.4 3.2 0.4 3.2 0.1 3.2-0.2 3.2-0.1 3.2 0.4 3.2 0.4 3.2 0.5 3.2 0.5 3.2 0.3 3.2 0.1 3.2-0.1 3.2-0.1" fill="none" stroke="#fff8e6" stroke-width="1.6" stroke-dasharray="14 9 6 13 22 8 5 17"/>
<path d="M185.4 355.7l3.2 0.4 3.2 0.6 3.2 0.8 3.2 0.5" fill="none" stroke="#fff6e8" stroke-width="1.5" stroke-linecap="round"/>
<path d="M214.2 360.5l3.2 0 3.2-0.1 3.2 0.3 3.2 0.7 3.2 0.6 3.2 0.1 3.2 0.1 3.2 0.3 3.2 0.4 3.2 0.3 3.2 0.2" fill="none" stroke="#fff6e8" stroke-width="1.9" stroke-linecap="round"/>
<path d="M307 368.8l3.2 0 3.2 0.1 3.2 0.2 3.2 0.2 3.2 0.3" fill="none" stroke="#fff6e8" stroke-width="1.4" stroke-linecap="round"/>
<path d="M332.6 371.3l3.2 0 3.2 0 3.2 0.2 3.2 0.4" fill="none" stroke="#fff6e8" stroke-width="1.7" stroke-linecap="round"/>
<path d="M393.4 376.1l3.2 0.5 3.2 0.6 3.2 0.4" fill="none" stroke="#fff6e8" stroke-width="1.2" stroke-linecap="round"/>
<path d="M598.2 390.9l3.2 0 3.2 0 3.2 0 3.2 0.3" fill="none" stroke="#fff6e8" stroke-width="1.0" stroke-linecap="round"/>
<path d="M86.2 297.9l3.2 0.2 3.2 0.3 3.2 0.4 3.2 0.1 3.2-0.1 3.2-0.1 3.2 0 3.2 0.4 3.2 0.5 3.2 0.2 3.2 0.2 3.2 0.5 3.2 0.9 3.2 0.8 3.2 0.5 3.2 0.6 3.2 0.7 3.2 0.3 3.2 0 3.2 0.1 3.2 0.4 3.2 0.1 3.2 0 3.2 0.2 3.2 0.6 3.2 0.8 3.2 0.8 3.2 0.7 3.2 0.7 3.2 0.5 3.2 0.3 3.2 0.2 3.2 0.3 3.2 0.6 3.2 0.7 3.2 0.5 3.2 0.4 3.2 0 3.2 0 3.2 0 3.2 0.1 3.2 0.3 3.2 0.3 3.2 0.5 3.2 0.5 3.2 0.2 3.2 0.2 3.2 0.3 3.2 0.6 3.2 0.6 3.2 0.4 3.2 0.5 3.2 0.7 3.2 0.7 3.2 0.6 3.2 0.6 3.2 0.4 3.2 0.3 3.2 0.3 3.2 0.2 3.2 0.2 3.2 0.2 3.2 0.1 3.2 0.1 3.2 0.6 3.2 0.8 3.2 0.6 3.2 0 3.2-0.2 3.2 0.1 3.2 0.5 3.2 0.5 3.2 0.4 3.2 0.3 3.2 0.5 3.2 0.6 3.2 0.6 3.2 0.3 3.2 0.2 3.2 0.3 3.2 0.4 3.2 0.3 3.2 0.1 3.2 0 3.2 0.1 3.2 0.3 3.2 0.4 3.2 0.6 3.2 0.4 3.2 0.3 3.2 0.5 3.2 0.8 3.2 0.7 3.2 0.4 3.2 0.1 3.2 0.1 3.2 0.3 3.2 0.5 3.2 0.3 3.2 0 3.2 0 3.2 0.2 3.2 0.4 3.2 0.4 3.2 0.3 3.2 0.2 3.2 0.2 3.2 0.3 3.2 0.1 3.2 0.1 3.2 0.5 3.2 0.6 3.2 0.5 3.2 0.3 3.2 0.2 3.2 0.2 3.2 0.4 3.2 0.3 3.2 0.4 3.2 0.3 3.2 0.3 3.2 0.4 3.2 0.3 3.2 0 3.2 0 3.2 0.1 3.2 0.5 3.2 0.6 3.2 0.3 3.2 0 3.2 0 3.2 0.2 3.2 0.5 3.2 0.5 3.2 0.4 3.2 0.2 3.2 0.4 3.2 0.3 3.2 0.2 3.2 0.2 3.2 0.3 3.2 0.5 3.2 0.3 3.2 0.1 3.2 0 3.2 0.1 3.2 0.1 3.2-0.1 3.2-0.1 3.2 0 3.2 0.2 3.2 0.3 3.2 0.2 3.2 0.1 3.2 0.1 3.2 0.2 3.2 0.2 3.2 0.3 3.2 0.2 3.2 0.1 3.2 0.2 3.2 0.1 3.2 0.1 3.2 0.1 3.2 0.3 3.2 0.6 3.2 0.7 3.2 0.7 3.2 0.2 3.2-0.1 3.2-0.1 3.2 0.2 3.2 0.3 3.2 0.2 3.2 0.1 3.2 0.2 3.2 0.2 3.2 0.2 3.2 0.3 3.2 0.3 3.2 0.3 3.2 0.4 3.2 0.5 3.2 0.5 3.2 0.3 3.2 0.2 3.2 0.4 3.2 0.5 3.2 0.6 3.2 0.3 3.2 0.1 3.2 0 3.2 0.1 3.2 0.2 3.2 0.2 3.2 0.2 3.2 0.3 3.2 0.2 3.2 0.2 3.2 0 3.2 0 3.2-0.1 3.2 0 3.2 0 3.2 0.1 3.2 0.2 3.2 0.1 3.2-0.2 3.2-0.4 3.2-0.2" fill="none" stroke="#8f9466" stroke-opacity="0.85" stroke-width="2.2" stroke-dasharray="0 22 14 40 10 68 12 30 9 95 8 120"/>
</g>
<text x="243.94" y="38.3" font-size="17.4" fill="#595959" textLength="92.75" lengthAdjust="spacingAndGlyphs">Microstrip</text>
<text x="343.82" y="38.3" font-size="17.4" fill="#595959" textLength="96.78" lengthAdjust="spacingAndGlyphs">differential</text>
<text x="448.76" y="38.3" font-size="17.4" fill="#595959" textLength="52.39" lengthAdjust="spacingAndGlyphs">phase</text>
<text x="507.77" y="38.3" font-size="17.4" fill="#595959" textLength="57.81" lengthAdjust="spacingAndGlyphs">length</text>
<text x="571.58" y="38.3" font-size="17.4" fill="#595959" textLength="77.03" lengthAdjust="spacingAndGlyphs">method,</text>
<text x="654.01" y="38.3" font-size="17.4" fill="#595959" textLength="22.27" lengthAdjust="spacingAndGlyphs">Dk</text>
<text x="682.94" y="38.3" font-size="17.4" fill="#595959" textLength="24.09" lengthAdjust="spacingAndGlyphs">vs.</text>
<text x="712.59" y="38.3" font-size="17.4" fill="#595959" textLength="92.75" lengthAdjust="spacingAndGlyphs">Frequency</text>
<text x="152.39" y="65.6" font-size="17.4" fill="#595959" textLength="48.10" lengthAdjust="spacingAndGlyphs">using</text>
<text x="207.00" y="65.6" font-size="17.4" fill="#595959" textLength="21.61" lengthAdjust="spacingAndGlyphs">75</text>
<text x="233.62" y="65.6" font-size="17.4" fill="#595959" textLength="31.82" lengthAdjust="spacingAndGlyphs">lots</text>
<text x="271.59" y="65.6" font-size="17.4" fill="#595959" textLength="18.08" lengthAdjust="spacingAndGlyphs">of</text>
<text x="296.62" y="65.6" font-size="17.4" fill="#595959" textLength="40.14" lengthAdjust="spacingAndGlyphs">5mil</text>
<text x="340.41" y="65.6" font-size="17.4" fill="#595959" textLength="91.78" lengthAdjust="spacingAndGlyphs">RO3003&#8482;</text>
<text x="434.41" y="65.6" font-size="17.4" fill="#595959" textLength="78.21" lengthAdjust="spacingAndGlyphs">laminate</text>
<text x="520.31" y="65.6" font-size="17.4" fill="#595959" textLength="23.50" lengthAdjust="spacingAndGlyphs">ED</text>
<text x="549.43" y="65.6" font-size="17.4" fill="#595959" textLength="27.42" lengthAdjust="spacingAndGlyphs">cu,</text>
<text x="581.13" y="65.6" font-size="17.4" fill="#595959" textLength="13.80" lengthAdjust="spacingAndGlyphs">4</text>
<text x="599.65" y="65.6" font-size="17.4" fill="#595959" textLength="45.72" lengthAdjust="spacingAndGlyphs">years</text>
<text x="651.96" y="65.6" font-size="17.4" fill="#595959" textLength="59.29" lengthAdjust="spacingAndGlyphs">spread</text>
<text x="717.79" y="65.6" font-size="17.4" fill="#595959" textLength="47.18" lengthAdjust="spacingAndGlyphs">manf</text>
<text x="771.18" y="65.6" font-size="17.4" fill="#595959" textLength="47.52" lengthAdjust="spacingAndGlyphs">dates</text>
<text x="42.21" y="89.3" font-size="14.8" fill="#595959" textLength="21.47" lengthAdjust="spacingAndGlyphs">3.6</text>
<text x="42.21" y="156.6" font-size="14.8" fill="#595959" textLength="21.43" lengthAdjust="spacingAndGlyphs">3.5</text>
<text x="42.22" y="224.0" font-size="14.8" fill="#595959" textLength="21.23" lengthAdjust="spacingAndGlyphs">3.4</text>
<text x="42.21" y="291.3" font-size="14.8" fill="#595959" textLength="21.47" lengthAdjust="spacingAndGlyphs">3.3</text>
<text x="42.21" y="358.6" font-size="14.8" fill="#595959" textLength="21.57" lengthAdjust="spacingAndGlyphs">3.2</text>
<text x="42.21" y="425.9" font-size="14.8" fill="#595959" textLength="21.55" lengthAdjust="spacingAndGlyphs">3.1</text>
<text x="55.05" y="493.2" font-size="14.8" fill="#595959" textLength="8.09" lengthAdjust="spacingAndGlyphs">3</text>
<text x="42.01" y="560.6" font-size="14.8" fill="#595959" textLength="21.73" lengthAdjust="spacingAndGlyphs">2.9</text>
<text x="42.02" y="627.9" font-size="14.8" fill="#595959" textLength="21.66" lengthAdjust="spacingAndGlyphs">2.8</text>
<text x="75.25" y="649.5" font-size="14.8" fill="#595959" textLength="8.38" lengthAdjust="spacingAndGlyphs">1</text>
<text x="496.29" y="649.5" font-size="14.8" fill="#595959" textLength="17.63" lengthAdjust="spacingAndGlyphs">10</text>
<text x="918.72" y="649.5" font-size="14.8" fill="#595959" textLength="25.78" lengthAdjust="spacingAndGlyphs">100</text>
<text x="447.99" y="674.7" font-size="14.3" fill="#595959" textLength="69.54" lengthAdjust="spacingAndGlyphs">Frequency</text>
<text x="523.33" y="674.7" font-size="14.3" fill="#595959" textLength="37.55" lengthAdjust="spacingAndGlyphs">(GHz)</text>
<text transform="translate(33.8 362.2) rotate(-90)" font-size="15.6" fill="#595959" textLength="17.6" lengthAdjust="spacingAndGlyphs">Dk</text>
<rect x="597.5" y="129.2" width="146.8" height="72.5" fill="#ffffff" stroke="#8eaac0" stroke-width="1.1"/>
<text x="607.45" y="149.7" font-size="15" fill="#262626" textLength="32.25" lengthAdjust="spacingAndGlyphs" stroke="#262626" stroke-width="0.35">Data</text>
<text x="643.52" y="149.7" font-size="15" fill="#262626" textLength="13.29" lengthAdjust="spacingAndGlyphs" stroke="#262626" stroke-width="0.35">at</text>
<text x="661.42" y="149.7" font-size="15" fill="#262626" textLength="16.84" lengthAdjust="spacingAndGlyphs" stroke="#262626" stroke-width="0.35">77</text>
<text x="682.28" y="149.7" font-size="15" fill="#262626" textLength="32.73" lengthAdjust="spacingAndGlyphs" stroke="#262626" stroke-width="0.35">GHz:</text>
<text x="607.40" y="170.2" font-size="15" fill="#262626" textLength="64.45" lengthAdjust="spacingAndGlyphs" stroke="#262626" stroke-width="0.35">Minimum</text>
<text x="678.45" y="170.2" font-size="15" fill="#262626" textLength="9.02" lengthAdjust="spacingAndGlyphs" stroke="#262626" stroke-width="0.35">=</text>
<text x="691.12" y="170.2" font-size="15" fill="#262626" textLength="37.94" lengthAdjust="spacingAndGlyphs" stroke="#262626" stroke-width="0.35">3.097</text>
<text x="607.43" y="190.5" font-size="15" fill="#262626" textLength="67.30" lengthAdjust="spacingAndGlyphs" stroke="#262626" stroke-width="0.35">Maximum</text>
<text x="680.95" y="190.5" font-size="15" fill="#262626" textLength="9.02" lengthAdjust="spacingAndGlyphs" stroke="#262626" stroke-width="0.35">=</text>
<text x="692.72" y="190.5" font-size="15" fill="#262626" textLength="37.94" lengthAdjust="spacingAndGlyphs" stroke="#262626" stroke-width="0.35">3.223</text>
<rect x="765.9" y="270.4" width="177.6" height="26.1" rx="1.2" fill="#ffffff" stroke="#1e9a66" stroke-width="3"/>
<text x="774.97" y="289.7" font-size="20.2" fill="#404040" textLength="53.27" lengthAdjust="spacingAndGlyphs">0.126</text>
<text x="834.65" y="289.7" font-size="20.2" fill="#404040" textLength="20.06" lengthAdjust="spacingAndGlyphs">@</text>
<text x="860.00" y="289.7" font-size="20.2" fill="#404040" textLength="19.59" lengthAdjust="spacingAndGlyphs">77</text>
<text x="891.19" y="289.7" font-size="20.2" fill="#404040" textLength="40.00" lengthAdjust="spacingAndGlyphs">GHz</text>
<path d="M881.2 297V321.4H876.9L883.3 333.8L889.7 321.4H885.6V297Z" fill="#1e9a66"/>
<path d="M883 425.2L877.3 437H881V451H885.2V437H888.8Z" fill="#1e9a66"/>
<text x="535.84" y="537.9" font-size="20.4" fill="#404040" textLength="28.13" lengthAdjust="spacingAndGlyphs">ED</text>
<text x="568.57" y="537.9" font-size="20.4" fill="#404040" textLength="67.10" lengthAdjust="spacingAndGlyphs">copper</text>
<text x="642.39" y="537.9" font-size="20.4" fill="#404040" textLength="77.26" lengthAdjust="spacingAndGlyphs">average</text>
<text x="723.60" y="537.9" font-size="20.4" fill="#404040" textLength="70.35" lengthAdjust="spacingAndGlyphs">surface</text>
<text x="536.08" y="562.7" font-size="20.4" fill="#404040" textLength="100.00" lengthAdjust="spacingAndGlyphs">roughness</text>
<text x="641.98" y="562.7" font-size="20.4" fill="#404040" textLength="14.23" lengthAdjust="spacingAndGlyphs">is</text>
<text x="662.19" y="562.7" font-size="20.4" fill="#404040" textLength="30.67" lengthAdjust="spacingAndGlyphs">2.0</text>
<text x="697.21" y="562.7" font-size="20.4" fill="#404040" textLength="78.29" lengthAdjust="spacingAndGlyphs">microns</text>
<text x="781.16" y="562.7" font-size="20.4" fill="#404040" textLength="44.46" lengthAdjust="spacingAndGlyphs">RMS</text>
<text x="834.00" y="681.9" font-size="32.4" fill="#000000" textLength="39.51" lengthAdjust="spacingAndGlyphs">(a)</text>
</svg>
</div>
</body>
</html>
